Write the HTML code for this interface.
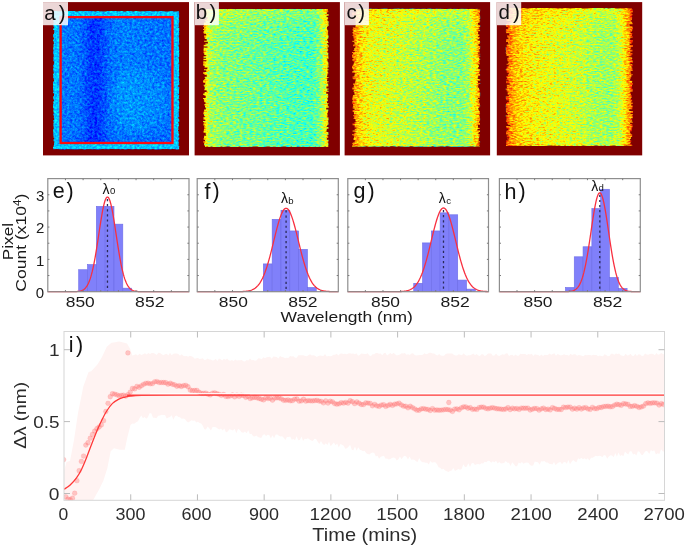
<!DOCTYPE html>
<html><head><meta charset="utf-8"><style>
html,body{margin:0;padding:0;background:#fff;overflow:hidden;}
svg{display:block;font-family:"Liberation Sans", sans-serif;}
text{opacity:0.995;}
</style></head><body>
<svg width="685" height="545" viewBox="0 0 685 545">
<defs><linearGradient id="ga_h" x1="0" y1="0" x2="1" y2="0"><stop offset="0" stop-color="#595959" stop-opacity="1"/><stop offset="0.043478260869565216" stop-color="#595959" stop-opacity="1"/><stop offset="0.05533596837944664" stop-color="#3e3e3e" stop-opacity="1"/><stop offset="0.1976284584980237" stop-color="#3d3d3d" stop-opacity="1"/><stop offset="0.25296442687747034" stop-color="#363636" stop-opacity="1"/><stop offset="0.30039525691699603" stop-color="#2e2e2e" stop-opacity="1"/><stop offset="0.36363636363636365" stop-color="#2e2e2e" stop-opacity="1"/><stop offset="0.41106719367588934" stop-color="#363636" stop-opacity="1"/><stop offset="0.466403162055336" stop-color="#3d3d3d" stop-opacity="1"/><stop offset="0.5691699604743083" stop-color="#404040" stop-opacity="1"/><stop offset="0.766798418972332" stop-color="#3d3d3d" stop-opacity="1"/><stop offset="0.9407114624505929" stop-color="#3c3c3c" stop-opacity="1"/><stop offset="0.9565217391304348" stop-color="#5e5e5e" stop-opacity="1"/><stop offset="1" stop-color="#757575" stop-opacity="1"/></linearGradient>
<linearGradient id="gb_h" x1="0" y1="0" x2="1" y2="0"><stop offset="0" stop-color="#afafaf" stop-opacity="1"/><stop offset="0.023847376788553257" stop-color="#a1a1a1" stop-opacity="1"/><stop offset="0.05564387917329093" stop-color="#8b8b8b" stop-opacity="1"/><stop offset="0.13513513513513511" stop-color="#828282" stop-opacity="1"/><stop offset="0.3736089030206677" stop-color="#7c7c7c" stop-opacity="1"/><stop offset="0.6518282988871223" stop-color="#757575" stop-opacity="1"/><stop offset="0.8664546899841017" stop-color="#717171" stop-opacity="1"/><stop offset="0.9220985691573926" stop-color="#7d7d7d" stop-opacity="1"/><stop offset="0.9618441971383147" stop-color="#949494" stop-opacity="1"/><stop offset="1" stop-color="#ababab" stop-opacity="1"/></linearGradient>
<linearGradient id="gc_h" x1="0" y1="0" x2="1" y2="0"><stop offset="0" stop-color="#bfbfbf" stop-opacity="1"/><stop offset="0.038910505836575876" stop-color="#b2b2b2" stop-opacity="1"/><stop offset="0.08560311284046693" stop-color="#a3a3a3" stop-opacity="1"/><stop offset="0.1556420233463035" stop-color="#9a9a9a" stop-opacity="1"/><stop offset="0.3346303501945525" stop-color="#939393" stop-opacity="1"/><stop offset="0.5291828793774319" stop-color="#8c8c8c" stop-opacity="1"/><stop offset="0.7237354085603113" stop-color="#838383" stop-opacity="1"/><stop offset="0.8560311284046692" stop-color="#818181" stop-opacity="1"/><stop offset="0.9105058365758755" stop-color="#8c8c8c" stop-opacity="1"/><stop offset="0.9494163424124513" stop-color="#9e9e9e" stop-opacity="1"/><stop offset="0.980544747081712" stop-color="#b0b0b0" stop-opacity="1"/><stop offset="1" stop-color="#bfbfbf" stop-opacity="1"/></linearGradient>
<linearGradient id="gd_h" x1="0" y1="0" x2="1" y2="0"><stop offset="0" stop-color="#c9c9c9" stop-opacity="1"/><stop offset="0.03529411764705882" stop-color="#bdbdbd" stop-opacity="1"/><stop offset="0.09019607843137255" stop-color="#acacac" stop-opacity="1"/><stop offset="0.19215686274509805" stop-color="#a2a2a2" stop-opacity="1"/><stop offset="0.3333333333333333" stop-color="#9b9b9b" stop-opacity="1"/><stop offset="0.5450980392156862" stop-color="#949494" stop-opacity="1"/><stop offset="0.7176470588235294" stop-color="#888888" stop-opacity="1"/><stop offset="0.8509803921568627" stop-color="#878787" stop-opacity="1"/><stop offset="0.8980392156862745" stop-color="#939393" stop-opacity="1"/><stop offset="0.9372549019607843" stop-color="#a4a4a4" stop-opacity="1"/><stop offset="0.9686274509803922" stop-color="#b8b8b8" stop-opacity="1"/><stop offset="1" stop-color="#c9c9c9" stop-opacity="1"/></linearGradient>
<linearGradient id="gv_b" x1="0" y1="0" x2="0" y2="1"><stop offset="0" stop-color="#ffffff" stop-opacity="0.12"/><stop offset="0.1" stop-color="#ffffff" stop-opacity="0.04"/><stop offset="0.25" stop-color="#ffffff" stop-opacity="0.0"/><stop offset="1" stop-color="#ffffff" stop-opacity="0.0"/></linearGradient>
<linearGradient id="gv_c" x1="0" y1="0" x2="0" y2="1"><stop offset="0" stop-color="#ffffff" stop-opacity="0.12"/><stop offset="0.1" stop-color="#ffffff" stop-opacity="0.04"/><stop offset="0.25" stop-color="#ffffff" stop-opacity="0.0"/><stop offset="0.92" stop-color="#ffffff" stop-opacity="0.0"/><stop offset="1" stop-color="#ffffff" stop-opacity="0.05"/></linearGradient>
<linearGradient id="gv_d" x1="0" y1="0" x2="0" y2="1"><stop offset="0" stop-color="#ffffff" stop-opacity="0.12"/><stop offset="0.1" stop-color="#ffffff" stop-opacity="0.04"/><stop offset="0.25" stop-color="#ffffff" stop-opacity="0.0"/><stop offset="0.9" stop-color="#ffffff" stop-opacity="0.0"/><stop offset="1" stop-color="#ffffff" stop-opacity="0.05"/></linearGradient>
<radialGradient id="rg_a"><stop offset="0" stop-color="#fff" stop-opacity="0.035"/><stop offset="0.7" stop-color="#fff" stop-opacity="0.025"/><stop offset="1" stop-color="#fff" stop-opacity="0"/></radialGradient>
<linearGradient id="gv_a" x1="0" y1="0" x2="0" y2="1"><stop offset="0" stop-color="#000" stop-opacity="0"/><stop offset="1" stop-color="#000" stop-opacity="0.07"/></linearGradient>
<filter id="nA" x="0" y="0" width="100%" height="100%" color-interpolation-filters="sRGB"><feTurbulence type="fractalNoise" baseFrequency="0.4 0.45" numOctaves="3" seed="3" result="t"/><feColorMatrix in="t" type="matrix" values="0.2 0 0 0 0.4  0.2 0 0 0 0.4  0.2 0 0 0 0.4  0 0 0 0 1" result="m"/><feComposite in="SourceGraphic" in2="m" operator="arithmetic" k1="0" k2="1" k3="1" k4="-0.5" result="r"/><feComponentTransfer in="r" result="j"><feFuncR type="table" tableValues="0.000 0.000 0.000 0.000 0.000 0.000 0.000 0.000 0.000 0.000 0.000 0.000 0.000 0.000 0.000 0.000 0.000 0.000 0.000 0.000 0.000 0.000 0.000 0.000 0.000 0.062 0.125 0.188 0.250 0.312 0.375 0.438 0.500 0.562 0.625 0.688 0.750 0.812 0.875 0.938 1.000 1.000 1.000 1.000 1.000 1.000 1.000 1.000 1.000 1.000 1.000 1.000 1.000 1.000 1.000 1.000 1.000 0.938 0.875 0.812 0.750 0.688 0.625 0.562 0.500"/><feFuncG type="table" tableValues="0.000 0.000 0.000 0.000 0.000 0.000 0.000 0.000 0.000 0.062 0.125 0.188 0.250 0.312 0.375 0.438 0.500 0.562 0.625 0.688 0.750 0.812 0.875 0.938 1.000 1.000 1.000 1.000 1.000 1.000 1.000 1.000 1.000 1.000 1.000 1.000 1.000 1.000 1.000 1.000 1.000 0.938 0.875 0.812 0.750 0.688 0.625 0.562 0.500 0.438 0.375 0.312 0.250 0.188 0.125 0.062 0.000 0.000 0.000 0.000 0.000 0.000 0.000 0.000 0.000"/><feFuncB type="table" tableValues="0.500 0.562 0.625 0.688 0.750 0.812 0.875 0.938 1.000 1.000 1.000 1.000 1.000 1.000 1.000 1.000 1.000 1.000 1.000 1.000 1.000 1.000 1.000 1.000 1.000 0.938 0.875 0.812 0.750 0.688 0.625 0.562 0.500 0.438 0.375 0.312 0.250 0.188 0.125 0.062 0.000 0.000 0.000 0.000 0.000 0.000 0.000 0.000 0.000 0.000 0.000 0.000 0.000 0.000 0.000 0.000 0.000 0.000 0.000 0.000 0.000 0.000 0.000 0.000 0.000"/><feFuncA type="identity"/></feComponentTransfer><feComposite in="j" in2="SourceGraphic" operator="in"/></filter>
<filter id="nB" x="0" y="0" width="100%" height="100%" color-interpolation-filters="sRGB"><feTurbulence type="fractalNoise" baseFrequency="0.3 0.7" numOctaves="2" seed="5" result="t"/><feColorMatrix in="t" type="matrix" values="0.36 0 0 0 0.32  0.36 0 0 0 0.32  0.36 0 0 0 0.32  0 0 0 0 1" result="m"/><feComposite in="SourceGraphic" in2="m" operator="arithmetic" k1="0" k2="1" k3="1" k4="-0.5" result="r"/><feComponentTransfer in="r" result="j"><feFuncR type="table" tableValues="0.000 0.000 0.000 0.000 0.000 0.000 0.000 0.000 0.000 0.000 0.000 0.000 0.000 0.000 0.000 0.000 0.000 0.000 0.000 0.000 0.000 0.000 0.000 0.000 0.000 0.062 0.125 0.188 0.250 0.312 0.375 0.438 0.500 0.562 0.625 0.688 0.750 0.812 0.875 0.938 1.000 1.000 1.000 1.000 1.000 1.000 1.000 1.000 1.000 1.000 1.000 1.000 1.000 1.000 1.000 1.000 1.000 0.938 0.875 0.812 0.750 0.688 0.625 0.562 0.500"/><feFuncG type="table" tableValues="0.000 0.000 0.000 0.000 0.000 0.000 0.000 0.000 0.000 0.062 0.125 0.188 0.250 0.312 0.375 0.438 0.500 0.562 0.625 0.688 0.750 0.812 0.875 0.938 1.000 1.000 1.000 1.000 1.000 1.000 1.000 1.000 1.000 1.000 1.000 1.000 1.000 1.000 1.000 1.000 1.000 0.938 0.875 0.812 0.750 0.688 0.625 0.562 0.500 0.438 0.375 0.312 0.250 0.188 0.125 0.062 0.000 0.000 0.000 0.000 0.000 0.000 0.000 0.000 0.000"/><feFuncB type="table" tableValues="0.500 0.562 0.625 0.688 0.750 0.812 0.875 0.938 1.000 1.000 1.000 1.000 1.000 1.000 1.000 1.000 1.000 1.000 1.000 1.000 1.000 1.000 1.000 1.000 1.000 0.938 0.875 0.812 0.750 0.688 0.625 0.562 0.500 0.438 0.375 0.312 0.250 0.188 0.125 0.062 0.000 0.000 0.000 0.000 0.000 0.000 0.000 0.000 0.000 0.000 0.000 0.000 0.000 0.000 0.000 0.000 0.000 0.000 0.000 0.000 0.000 0.000 0.000 0.000 0.000"/><feFuncA type="identity"/></feComponentTransfer><feComposite in="j" in2="SourceGraphic" operator="in"/></filter>
<filter id="nC" x="0" y="0" width="100%" height="100%" color-interpolation-filters="sRGB"><feTurbulence type="fractalNoise" baseFrequency="0.3 0.7" numOctaves="2" seed="8" result="t"/><feColorMatrix in="t" type="matrix" values="0.36 0 0 0 0.32  0.36 0 0 0 0.32  0.36 0 0 0 0.32  0 0 0 0 1" result="m"/><feComposite in="SourceGraphic" in2="m" operator="arithmetic" k1="0" k2="1" k3="1" k4="-0.5" result="r"/><feComponentTransfer in="r" result="j"><feFuncR type="table" tableValues="0.000 0.000 0.000 0.000 0.000 0.000 0.000 0.000 0.000 0.000 0.000 0.000 0.000 0.000 0.000 0.000 0.000 0.000 0.000 0.000 0.000 0.000 0.000 0.000 0.000 0.062 0.125 0.188 0.250 0.312 0.375 0.438 0.500 0.562 0.625 0.688 0.750 0.812 0.875 0.938 1.000 1.000 1.000 1.000 1.000 1.000 1.000 1.000 1.000 1.000 1.000 1.000 1.000 1.000 1.000 1.000 1.000 0.938 0.875 0.812 0.750 0.688 0.625 0.562 0.500"/><feFuncG type="table" tableValues="0.000 0.000 0.000 0.000 0.000 0.000 0.000 0.000 0.000 0.062 0.125 0.188 0.250 0.312 0.375 0.438 0.500 0.562 0.625 0.688 0.750 0.812 0.875 0.938 1.000 1.000 1.000 1.000 1.000 1.000 1.000 1.000 1.000 1.000 1.000 1.000 1.000 1.000 1.000 1.000 1.000 0.938 0.875 0.812 0.750 0.688 0.625 0.562 0.500 0.438 0.375 0.312 0.250 0.188 0.125 0.062 0.000 0.000 0.000 0.000 0.000 0.000 0.000 0.000 0.000"/><feFuncB type="table" tableValues="0.500 0.562 0.625 0.688 0.750 0.812 0.875 0.938 1.000 1.000 1.000 1.000 1.000 1.000 1.000 1.000 1.000 1.000 1.000 1.000 1.000 1.000 1.000 1.000 1.000 0.938 0.875 0.812 0.750 0.688 0.625 0.562 0.500 0.438 0.375 0.312 0.250 0.188 0.125 0.062 0.000 0.000 0.000 0.000 0.000 0.000 0.000 0.000 0.000 0.000 0.000 0.000 0.000 0.000 0.000 0.000 0.000 0.000 0.000 0.000 0.000 0.000 0.000 0.000 0.000"/><feFuncA type="identity"/></feComponentTransfer><feComposite in="j" in2="SourceGraphic" operator="in"/></filter>
<filter id="nD" x="0" y="0" width="100%" height="100%" color-interpolation-filters="sRGB"><feTurbulence type="fractalNoise" baseFrequency="0.3 0.7" numOctaves="2" seed="11" result="t"/><feColorMatrix in="t" type="matrix" values="0.34 0 0 0 0.33  0.34 0 0 0 0.33  0.34 0 0 0 0.33  0 0 0 0 1" result="m"/><feComposite in="SourceGraphic" in2="m" operator="arithmetic" k1="0" k2="1" k3="1" k4="-0.5" result="r"/><feComponentTransfer in="r" result="j"><feFuncR type="table" tableValues="0.000 0.000 0.000 0.000 0.000 0.000 0.000 0.000 0.000 0.000 0.000 0.000 0.000 0.000 0.000 0.000 0.000 0.000 0.000 0.000 0.000 0.000 0.000 0.000 0.000 0.062 0.125 0.188 0.250 0.312 0.375 0.438 0.500 0.562 0.625 0.688 0.750 0.812 0.875 0.938 1.000 1.000 1.000 1.000 1.000 1.000 1.000 1.000 1.000 1.000 1.000 1.000 1.000 1.000 1.000 1.000 1.000 0.938 0.875 0.812 0.750 0.688 0.625 0.562 0.500"/><feFuncG type="table" tableValues="0.000 0.000 0.000 0.000 0.000 0.000 0.000 0.000 0.000 0.062 0.125 0.188 0.250 0.312 0.375 0.438 0.500 0.562 0.625 0.688 0.750 0.812 0.875 0.938 1.000 1.000 1.000 1.000 1.000 1.000 1.000 1.000 1.000 1.000 1.000 1.000 1.000 1.000 1.000 1.000 1.000 0.938 0.875 0.812 0.750 0.688 0.625 0.562 0.500 0.438 0.375 0.312 0.250 0.188 0.125 0.062 0.000 0.000 0.000 0.000 0.000 0.000 0.000 0.000 0.000"/><feFuncB type="table" tableValues="0.500 0.562 0.625 0.688 0.750 0.812 0.875 0.938 1.000 1.000 1.000 1.000 1.000 1.000 1.000 1.000 1.000 1.000 1.000 1.000 1.000 1.000 1.000 1.000 1.000 0.938 0.875 0.812 0.750 0.688 0.625 0.562 0.500 0.438 0.375 0.312 0.250 0.188 0.125 0.062 0.000 0.000 0.000 0.000 0.000 0.000 0.000 0.000 0.000 0.000 0.000 0.000 0.000 0.000 0.000 0.000 0.000 0.000 0.000 0.000 0.000 0.000 0.000 0.000 0.000"/><feFuncA type="identity"/></feComponentTransfer><feComposite in="j" in2="SourceGraphic" operator="in"/></filter>
<clipPath id="cpa"><path d="M53.8 10.75L55.8 11.05L57.8 11.37L59.8 11.31L61.8 11.33L63.8 11.03L65.8 11.4L67.8 11.13L69.8 10.68L71.8 11.06L73.8 10.65L75.8 11.53L77.8 11.55L79.8 10.94L81.8 10.91L83.8 11.37L85.8 10.8L87.8 10.78L89.8 10.79L91.8 10.95L93.8 11.23L95.8 11.56L97.8 10.81L99.8 11.56L101.8 11.16L103.8 11.5L105.8 11.42L107.8 10.76L109.8 11.25L111.8 10.72L113.8 10.61L115.8 11L117.8 11.37L119.8 11.17L121.8 10.79L123.8 11.44L125.8 11.51L127.8 10.84L129.8 11.05L131.8 11.24L133.8 11.5L135.8 10.73L137.8 11.15L139.8 11.57L141.8 11.21L143.8 11.32L145.8 11.37L147.8 11.11L149.8 10.89L151.8 11.19L153.8 11.13L155.8 10.94L157.8 11.45L159.8 10.96L161.8 11.08L163.8 11.36L165.8 11.41L167.8 11.49L169.8 11.25L171.8 10.85L173.8 11.45L175.8 11.51L177.8 11.31L178.73 11L178.73 12.39L179.26 12.39L179.26 14L179.11 14L179.11 15.71L179.24 15.71L179.24 16.57L179.17 16.57L179.17 17.74L178.76 17.74L178.76 19.44L179.08 19.44L179.08 20.25L179.44 20.25L179.44 21.68L179.11 21.68L179.11 22.95L178.71 22.95L178.71 24.61L178.76 24.61L178.76 25.98L178.82 25.98L178.82 26.97L178.34 26.97L178.34 27.83L179.38 27.83L179.38 28.74L179.34 28.74L179.34 29.69L179.4 29.69L179.4 30.97L178.99 30.97L178.99 32.19L179.27 32.19L179.27 33.68L179.4 33.68L179.4 34.73L178.87 34.73L178.87 36.25L178.67 36.25L178.67 37.36L179.14 37.36L179.14 39.36L179.25 39.36L179.25 40.49L179.03 40.49L179.03 42.48L179.18 42.48L179.18 43.29L179.45 43.29L179.45 44.86L178.6 44.86L178.6 46.64L179.07 46.64L179.07 47.98L179.14 47.98L179.14 49.95L179.47 49.95L179.47 51.17L179.17 51.17L179.17 53.04L179.5 53.04L179.5 54.69L179.26 54.69L179.26 55.94L179.26 55.94L179.26 56.94L178.61 56.94L178.61 58.06L178.77 58.06L178.77 59.03L178.86 59.03L178.86 59.96L179.07 59.96L179.07 61.45L179.31 61.45L179.31 62.8L178.48 62.8L178.48 63.71L179.46 63.71L179.46 64.53L179.45 64.53L179.45 65.44L179.31 65.44L179.31 66.92L179.11 66.92L179.11 68.63L179.23 68.63L179.23 70.57L178.9 70.57L178.9 72.44L179.35 72.44L179.35 74.25L179.33 74.25L179.33 75.99L178.9 75.99L178.9 77.67L178.9 77.67L178.9 78.52L179.49 78.52L179.49 79.97L179.36 79.97L179.36 80.84L179.02 80.84L179.02 81.88L179.43 81.88L179.43 83.7L179.42 83.7L179.42 85.13L178.22 85.13L178.22 86.76L179.46 86.76L179.46 87.84L179.43 87.84L179.43 88.91L179.18 88.91L179.18 90.07L179.05 90.07L179.05 91.7L179.03 91.7L179.03 92.61L179.04 92.61L179.04 94.15L178.32 94.15L178.32 95.05L179.33 95.05L179.33 96.17L178.9 96.17L178.9 97.88L179.48 97.88L179.48 98.87L178.44 98.87L178.44 99.72L178.65 99.72L178.65 100.53L179.06 100.53L179.06 101.79L179.41 101.79L179.41 102.91L179.35 102.91L179.35 104.79L178.91 104.79L178.91 105.62L179.12 105.62L179.12 106.63L179.3 106.63L179.3 107.86L179.31 107.86L179.31 109.1L178.72 109.1L178.72 110.39L179.47 110.39L179.47 111.23L178.71 111.23L178.71 112.98L178.96 112.98L178.96 114.09L178.87 114.09L178.87 115.76L179.26 115.76L179.26 116.95L178.31 116.95L178.31 118.15L178.62 118.15L178.62 119.25L179.34 119.25L179.34 120.3L179.48 120.3L179.48 121.84L178.33 121.84L178.33 122.91L178.79 122.91L178.79 124.54L178.93 124.54L178.93 126.16L178.39 126.16L178.39 127.57L178.38 127.57L178.38 128.82L178.67 128.82L178.67 129.67L178.02 129.67L178.02 131.11L178.57 131.11L178.57 132.03L178.58 132.03L178.58 133.99L179.19 133.99L179.19 135.71L178.7 135.71L178.7 136.57L178.48 136.57L178.48 137.58L179.41 137.58L179.41 139.17L178.85 139.17L178.85 140.37L178.37 140.37L178.37 141.78L178.88 141.78L178.88 142.8L178.7 142.8L178.7 144.54L178.59 144.54L178.59 145.88L179.48 145.88L179.48 147.19L178.93 147.19L178.93 148.34L179.32 148.34L179.32 149.5L178.7 149.43L176.7 149.77L174.7 149.37L172.7 149.11L170.7 149.54L168.7 149.29L166.7 148.93L164.7 149.3L162.7 149.01L160.7 149.54L158.7 149.8L156.7 149.63L154.7 149.86L152.7 149.04L150.7 149.74L148.7 149.66L146.7 149.14L144.7 149.37L142.7 149.07L140.7 149.21L138.7 149.42L136.7 149.29L134.7 149.29L132.7 149.61L130.7 149.58L128.7 149.02L126.7 149.47L124.7 149.68L122.7 148.93L120.7 149.65L118.7 148.92L116.7 149.33L114.7 149.28L112.7 148.92L110.7 148.97L108.7 149.57L106.7 149.17L104.7 149.42L102.7 149.06L100.7 149.52L98.7 149.84L96.7 149.65L94.7 149.27L92.7 149.86L90.7 149.25L88.7 149.18L86.7 149.32L84.7 149.89L82.7 149.29L80.7 149.19L78.7 149.44L76.7 149.54L74.7 149.66L72.7 149.61L70.7 149.57L68.7 149.31L66.7 149.34L64.7 149.88L62.7 149.39L60.7 149.66L58.7 149.26L56.7 148.91L54.7 149.29L53.44 149.5L53.44 148.45L53.03 148.45L53.03 146.8L53.73 146.8L53.73 144.96L54.02 144.96L54.02 143.08L54.27 143.08L54.27 141.21L53.56 141.21L53.56 139.33L54.16 139.33L54.16 137.64L53.58 137.64L53.58 135.72L53.34 135.72L53.34 133.8L53.12 133.8L53.12 132.63L53.44 132.63L53.44 131.55L53.1 131.55L53.1 130.18L53.11 130.18L53.11 129.18L53.72 129.18L53.72 128.1L53.66 128.1L53.66 126.21L53.32 126.21L53.32 124.7L53.43 124.7L53.43 122.96L53.66 122.96L53.66 121.58L53.24 121.58L53.24 119.9L54.13 119.9L54.13 118.22L53.73 118.22L53.73 117.09L53.88 117.09L53.88 115.59L53.32 115.59L53.32 114.65L53.24 114.65L53.24 113.78L53.75 113.78L53.75 112.43L53.45 112.43L53.45 111.16L53.39 111.16L53.39 109.81L53.61 109.81L53.61 108.32L53.06 108.32L53.06 106.43L53.09 106.43L53.09 104.95L53.07 104.95L53.07 104.11L53.58 104.11L53.58 103.18L53.24 103.18L53.24 101.31L54.02 101.31L54.02 99.48L53.33 99.48L53.33 98.65L53.36 98.65L53.36 97.79L53.17 97.79L53.17 96.22L54 96.22L54 94.77L53.99 94.77L53.99 93.37L53.08 93.37L53.08 91.69L53.58 91.69L53.58 90.59L53.04 90.59L53.04 89.31L53.18 89.31L53.18 88.29L53 88.29L53 86.52L53.24 86.52L53.24 85.04L53.08 85.04L53.08 83.48L53.04 83.48L53.04 81.48L54.04 81.48L54.04 79.98L53.81 79.98L53.81 78.13L53.15 78.13L53.15 76.16L53.43 76.16L53.43 75.3L53.05 75.3L53.05 73.68L53.76 73.68L53.76 71.84L53.41 71.84L53.41 70.15L53.13 70.15L53.13 68.31L53.52 68.31L53.52 66.49L53.02 66.49L53.02 64.89L53.73 64.89L53.73 63.42L54.08 63.42L54.08 61.85L53.73 61.85L53.73 60.85L53.15 60.85L53.15 59.84L53.45 59.84L53.45 57.98L53.29 57.98L53.29 56.95L53.66 56.95L53.66 55.29L53.67 55.29L53.67 54.35L53.15 54.35L53.15 52.56L53.14 52.56L53.14 51.23L53.47 51.23L53.47 49.62L53.16 49.62L53.16 48.37L53.3 48.37L53.3 46.92L53.53 46.92L53.53 45.3L53.38 45.3L53.38 44.27L53.89 44.27L53.89 42.88L53.8 42.88L53.8 41.77L53.52 41.77L53.52 40.87L53.04 40.87L53.04 39.5L53.98 39.5L53.98 38.36L53.6 38.36L53.6 36.81L53.05 36.81L53.05 34.92L53.36 34.92L53.36 33.99L54.04 33.99L54.04 32.65L54.18 32.65L54.18 30.86L54.26 30.86L54.26 30.06L53.2 30.06L53.2 28.19L53.93 28.19L53.93 26.86L53.47 26.86L53.47 25.23L53.16 25.23L53.16 23.97L53.39 23.97L53.39 22.74L53.88 22.74L53.88 21.63L53.32 21.63L53.32 20.22L53.6 20.22L53.6 19.03L53.86 19.03L53.86 17.46L53.28 17.46L53.28 16.44L53.07 16.44L53.07 15.57L53.36 15.57L53.36 13.69L53.69 13.69L53.69 11.99L53.63 11.99L53.63 11Z"/></clipPath>
<clipPath id="cpb"><path d="M205.5 8.98L207.5 8.59L209.5 9.37L211.5 9.32L213.5 8.87L215.5 9.06L217.5 8.61L219.5 8.62L221.5 8.69L223.5 9.09L225.5 8.61L227.5 9.37L229.5 8.47L231.5 8.59L233.5 8.49L235.5 9.17L237.5 8.77L239.5 8.87L241.5 8.73L243.5 9.04L245.5 8.8L247.5 8.61L249.5 8.83L251.5 8.7L253.5 8.51L255.5 9.22L257.5 9.08L259.5 9.06L261.5 9.28L263.5 8.79L265.5 8.78L267.5 8.82L269.5 8.8L271.5 9.07L273.5 8.41L275.5 8.86L277.5 8.94L279.5 8.75L281.5 8.42L283.5 9.1L285.5 8.41L287.5 8.96L289.5 8.55L291.5 8.43L293.5 8.58L295.5 8.47L297.5 8.55L299.5 9.08L301.5 9.13L303.5 8.76L305.5 9.05L307.5 8.88L309.5 8.9L311.5 9.28L313.5 8.71L315.5 9.27L317.5 9.09L319.5 9.08L321.5 8.41L323.5 8.48L325.5 8.43L327.8 8.8L327.8 10.65L328.23 10.65L328.23 12.3L326.8 12.3L326.8 14.05L328.67 14.05L328.67 15.8L326.75 15.8L326.75 17.14L328.13 17.14L328.13 19.08L327.56 19.08L327.56 19.96L327.53 19.96L327.53 21.19L328.73 21.19L328.73 22.97L328.54 22.97L328.54 24.07L328.67 24.07L328.67 26.05L327.58 26.05L327.58 26.97L327 26.97L327 27.78L327.1 27.78L327.1 29.13L327.33 29.13L327.33 30.22L328.19 30.22L328.19 31.68L328.05 31.68L328.05 33.61L328.14 33.61L328.14 35.48L328.64 35.48L328.64 36.54L328.75 36.54L328.75 37.49L328.29 37.49L328.29 38.82L327.28 38.82L327.28 40.45L327.98 40.45L327.98 41.91L328.55 41.91L328.55 43.09L327.17 43.09L327.17 44.18L328.05 44.18L328.05 45.34L328.79 45.34L328.79 47.33L327.55 47.33L327.55 48.93L328.16 48.93L328.16 50.87L327.44 50.87L327.44 52.85L328.42 52.85L328.42 54.14L328.25 54.14L328.25 55.68L328.45 55.68L328.45 57.51L328.66 57.51L328.66 58.63L327.32 58.63L327.32 60.6L327.68 60.6L327.68 62.28L328.45 62.28L328.45 63.58L328.51 63.58L328.51 64.64L328.34 64.64L328.34 65.72L328.64 65.72L328.64 67.39L327.48 67.39L327.48 69.27L328.66 69.27L328.66 70.3L327.57 70.3L327.57 72.2L328.26 72.2L328.26 73.72L327.5 73.72L327.5 75.63L326.96 75.63L326.96 77.01L328.72 77.01L328.72 77.86L327.35 77.86L327.35 79.85L327 79.85L327 81.13L328.74 81.13L328.74 82.28L327.22 82.28L327.22 83.44L328.24 83.44L328.24 84.7L328.35 84.7L328.35 86.53L326.53 86.53L326.53 88.45L328.71 88.45L328.71 89.62L327.21 89.62L327.21 90.66L328.67 90.66L328.67 91.98L326.25 91.98L326.25 93.69L328.09 93.69L328.09 95.43L328.37 95.43L328.37 96.27L328.16 96.27L328.16 97.78L327.34 97.78L327.34 99.4L327.86 99.4L327.86 101.32L326.98 101.32L326.98 103.14L328.67 103.14L328.67 104.05L327.81 104.05L327.81 105.88L328.67 105.88L328.67 106.73L328.8 106.73L328.8 107.68L326.19 107.68L326.19 109.58L328.37 109.58L328.37 111.33L327.93 111.33L327.93 113.3L327.12 113.3L327.12 114.44L327.82 114.44L327.82 115.86L327.42 115.86L327.42 117.16L328.5 117.16L328.5 118.6L328.71 118.6L328.71 120.24L328.18 120.24L328.18 121.78L328.41 121.78L328.41 122.88L328.57 122.88L328.57 123.75L328.55 123.75L328.55 124.67L327.31 124.67L327.31 126.01L326.65 126.01L326.65 127.01L328.61 127.01L328.61 128.85L326.78 128.85L326.78 130.26L326.47 130.26L326.47 131.98L328.44 131.98L328.44 133.67L328.72 133.67L328.72 134.77L327.42 134.77L327.42 136.25L328.22 136.25L328.22 138.1L326.86 138.1L326.86 139.78L328.73 139.78L328.73 141.25L328.24 141.25L328.24 142.23L328.15 142.23L328.15 143.2L328.54 143.2L328.54 144.95L328.36 144.95L328.36 145.84L328.23 145.84L328.23 146.65L328.54 146.65L328.54 147L327.3 147.29L325.3 146.56L323.3 147.12L321.3 147.31L319.3 146.65L317.3 147.26L315.3 146.72L313.3 147.17L311.3 146.98L309.3 146.75L307.3 147.29L305.3 147.1L303.3 146.72L301.3 146.97L299.3 146.69L297.3 146.69L295.3 147.34L293.3 147.38L291.3 146.56L289.3 147.32L287.3 147.11L285.3 146.41L283.3 146.51L281.3 146.84L279.3 147.29L277.3 147.27L275.3 146.65L273.3 146.85L271.3 147.33L269.3 146.61L267.3 146.5L265.3 146.81L263.3 147.08L261.3 147.27L259.3 147.28L257.3 146.41L255.3 146.58L253.3 146.53L251.3 147L249.3 146.81L247.3 147.32L245.3 147.02L243.3 147.01L241.3 147.09L239.3 146.6L237.3 147.29L235.3 147.26L233.3 147.22L231.3 147.18L229.3 146.57L227.3 146.45L225.3 146.76L223.3 147.12L221.3 146.6L219.3 147.27L217.3 147.26L215.3 147.1L213.3 146.88L211.3 146.55L209.3 147.21L207.3 146.57L205.04 147L205.04 145.44L204.08 145.44L204.08 144.25L204.18 144.25L204.18 142.61L203.14 142.61L203.14 141.23L204.98 141.23L204.98 139.74L203.66 139.74L203.66 137.99L204.01 137.99L204.01 136.86L203.97 136.86L203.97 135.82L206.03 135.82L206.03 134.67L205.68 134.67L205.68 132.81L203.56 132.81L203.56 131.98L203.5 131.98L203.5 130.8L203.95 130.8L203.95 129.11L204.3 129.11L204.3 127.37L204.13 127.37L204.13 126.54L204.62 126.54L204.62 125.46L203.48 125.46L203.48 123.49L203.76 123.49L203.76 122.04L203.05 122.04L203.05 120.98L205.25 120.98L205.25 119.83L203.51 119.83L203.51 118.62L203.43 118.62L203.43 117.36L204.67 117.36L204.67 116.07L204.12 116.07L204.12 114.61L203.62 114.61L203.62 113.57L203.06 113.57L203.06 112.64L203.73 112.64L203.73 111.21L204.15 111.21L204.15 109.43L205.8 109.43L205.8 107.56L205.01 107.56L205.01 105.58L204.31 105.58L204.31 103.88L205.45 103.88L205.45 102.23L204.23 102.23L204.23 100.56L203.89 100.56L203.89 98.88L203.03 98.88L203.03 97.88L205.64 97.88L205.64 95.96L204.45 95.96L204.45 94.93L203.22 94.93L203.22 93.62L204.66 93.62L204.66 92.09L206.62 92.09L206.62 90.37L204.37 90.37L204.37 88.92L204.74 88.92L204.74 87.1L204.3 87.1L204.3 85.62L203.53 85.62L203.53 84.7L205.16 84.7L205.16 83.05L203.26 83.05L203.26 81.38L203.09 81.38L203.09 80.21L204 80.21L204 79.26L205.23 79.26L205.23 77.7L204.64 77.7L204.64 76.76L206.74 76.76L206.74 74.94L204.42 74.94L204.42 73.79L203.22 73.79L203.22 71.95L206.28 71.95L206.28 70.2L203.96 70.2L203.96 69.31L207.29 69.31L207.29 67.65L204.62 67.65L204.62 65.82L203.19 65.82L203.19 64.06L203.24 64.06L203.24 62.48L203.31 62.48L203.31 61.35L206.38 61.35L206.38 60.16L203.36 60.16L203.36 58.83L205.92 58.83L205.92 57.64L203.53 57.64L203.53 56.33L205.78 56.33L205.78 54.88L204.3 54.88L204.3 53.14L203.55 53.14L203.55 51.67L203.59 51.67L203.59 50.32L203.57 50.32L203.57 49.01L203.69 49.01L203.69 47.39L207.49 47.39L207.49 46.38L203.62 46.38L203.62 44.86L205.39 44.86L205.39 43.47L207.86 43.47L207.86 41.71L204.05 41.71L204.05 40.86L206.7 40.86L206.7 38.95L204.67 38.95L204.67 37.85L204.38 37.85L204.38 37.04L204.05 37.04L204.05 35.6L206.09 35.6L206.09 33.86L203.7 33.86L203.7 32.93L203.35 32.93L203.35 31.47L204.09 31.47L204.09 30.08L203.07 30.08L203.07 28.96L204.02 28.96L204.02 26.99L203.2 26.99L203.2 25.64L203.83 25.64L203.83 23.69L203.94 23.69L203.94 22.4L205.57 22.4L205.57 20.86L204.65 20.86L204.65 19.85L206.64 19.85L206.64 18.75L207.46 18.75L207.46 17.34L203.77 17.34L203.77 16.21L205.3 16.21L205.3 14.97L206.39 14.97L206.39 13.31L203.95 13.31L203.95 11.41L203.68 11.41L203.68 10.42L205.67 10.42L205.67 8.8Z"/></clipPath>
<clipPath id="cpc"><path d="M354.5 8.25L356.5 8.72L358.5 8.27L360.5 8.81L362.5 8.71L364.5 8.48L366.5 8.72L368.5 8.67L370.5 8.14L372.5 8.63L374.5 8.72L376.5 8.62L378.5 8.98L380.5 8.84L382.5 8.48L384.5 8.33L386.5 8.23L388.5 8.91L390.5 8.79L392.5 8.71L394.5 8.54L396.5 8.6L398.5 8.32L400.5 8.63L402.5 8.25L404.5 8.72L406.5 8.73L408.5 8.77L410.5 8.35L412.5 8.19L414.5 8.43L416.5 8.79L418.5 8.61L420.5 8.85L422.5 8.53L424.5 8.5L426.5 9.01L428.5 8.27L430.5 8.31L432.5 8.69L434.5 8.73L436.5 8.53L438.5 8.66L440.5 8.54L442.5 8.77L444.5 8.99L446.5 8.93L448.5 8.74L450.5 8.57L452.5 9.05L454.5 8.55L456.5 8.73L458.5 8.97L460.5 8.78L462.5 8.49L464.5 8.84L466.5 8.7L468.5 9.01L470.5 8.72L472.5 8.63L474.5 9.07L476.5 8.63L478.5 8.5L477.35 8.5L477.35 9.51L480.27 9.51L480.27 11.37L479.98 11.37L479.98 12.99L479.39 12.99L479.39 14.32L479.69 14.32L479.69 15.62L480.2 15.62L480.2 16.7L480.35 16.7L480.35 17.68L480.39 17.68L480.39 18.98L479.61 18.98L479.61 20.28L480.24 20.28L480.24 21.43L479.65 21.43L479.65 22.79L478.02 22.79L478.02 24.15L478.34 24.15L478.34 25.22L480.41 25.22L480.41 26.97L479.3 26.97L479.3 28.93L478.61 28.93L478.61 29.74L480.17 29.74L480.17 31.32L478.18 31.32L478.18 32.96L478.05 32.96L478.05 34.33L479.32 34.33L479.32 36.07L478.2 36.07L478.2 36.94L479.86 36.94L479.86 37.91L479.39 37.91L479.39 39.29L477.52 39.29L477.52 40.5L480.06 40.5L480.06 41.84L480.28 41.84L480.28 42.65L479.66 42.65L479.66 44.12L478.55 44.12L478.55 46.06L480.31 46.06L480.31 47.77L480.21 47.77L480.21 49.18L479.14 49.18L479.14 50.54L479.61 50.54L479.61 52.4L478.12 52.4L478.12 53.86L480.28 53.86L480.28 54.79L478.56 54.79L478.56 55.83L480.42 55.83L480.42 56.85L479.28 56.85L479.28 58.71L480.28 58.71L480.28 60.07L479.28 60.07L479.28 61.16L479.94 61.16L479.94 62.09L479.37 62.09L479.37 63.48L480.05 63.48L480.05 64.34L478.1 64.34L478.1 65.17L478.92 65.17L478.92 66.97L478.28 66.97L478.28 68.93L480.38 68.93L480.38 70.75L479.73 70.75L479.73 72.09L479.35 72.09L479.35 74.06L480.13 74.06L480.13 75.82L478.24 75.82L478.24 77.44L477.65 77.44L477.65 79L480.32 79L480.32 80.83L477.73 80.83L477.73 81.95L478.04 81.95L478.04 83L480.48 83L480.48 84.06L478.43 84.06L478.43 85.84L478.12 85.84L478.12 87.81L479.05 87.81L479.05 89.47L479.91 89.47L479.91 90.48L479.29 90.48L479.29 91.29L479.45 91.29L479.45 92.43L480.36 92.43L480.36 93.63L480.32 93.63L480.32 95.24L480.26 95.24L480.26 96.14L479.68 96.14L479.68 97.97L477.98 97.97L477.98 99.12L479.51 99.12L479.51 100.54L478.73 100.54L478.73 101.57L479.2 101.57L479.2 102.77L479.7 102.77L479.7 103.58L479.77 103.58L479.77 105.1L480.22 105.1L480.22 106.5L479.28 106.5L479.28 108.31L477.99 108.31L477.99 109.53L479.08 109.53L479.08 110.77L479.75 110.77L479.75 112.64L480.09 112.64L480.09 113.63L479.84 113.63L479.84 114.54L479.43 114.54L479.43 116.31L479.82 116.31L479.82 118.29L480.2 118.29L480.2 120.25L479.85 120.25L479.85 121.24L479.18 121.24L479.18 123.09L479.91 123.09L479.91 125.09L477.93 125.09L477.93 126.61L477.96 126.61L477.96 127.64L479.8 127.64L479.8 128.94L477.46 128.94L477.46 130.37L480.1 130.37L480.1 131.89L478.8 131.89L478.8 133.27L478.33 133.27L478.33 134.26L479.67 134.26L479.67 136.14L479.47 136.14L479.47 137.19L479.08 137.19L479.08 138.44L479.28 138.44L479.28 139.39L478.74 139.39L478.74 141.34L480.2 141.34L480.2 142.53L478.74 142.53L478.74 143.46L479.77 143.46L479.77 144.47L479.26 144.47L479.26 146.16L480.01 146.16L480.01 146.8L478.75 146.41L476.75 146.49L474.75 147.04L472.75 146.59L470.75 146.55L468.75 146.82L466.75 146.89L464.75 147.06L462.75 146.76L460.75 147.05L458.75 147.09L456.75 147.13L454.75 147.12L452.75 146.89L450.75 146.9L448.75 146.59L446.75 146.31L444.75 147.12L442.75 146.61L440.75 146.54L438.75 146.75L436.75 146.96L434.75 147.03L432.75 146.31L430.75 146.98L428.75 147.14L426.75 147.18L424.75 147.14L422.75 146.77L420.75 147.09L418.75 146.79L416.75 147.05L414.75 147.19L412.75 146.57L410.75 146.32L408.75 146.95L406.75 147.14L404.75 147.1L402.75 146.66L400.75 146.65L398.75 146.32L396.75 147.05L394.75 146.47L392.75 146.32L390.75 146.3L388.75 147.13L386.75 146.62L384.75 146.99L382.75 146.27L380.75 146.68L378.75 146.95L376.75 146.97L374.75 146.39L372.75 146.68L370.75 147.01L368.75 147.11L366.75 146.29L364.75 146.79L362.75 147.09L360.75 146.82L358.75 146.99L356.75 146.5L354.75 146.69L352.06 146.8L352.06 145.32L352.87 145.32L352.87 144.27L352.13 144.27L352.13 143.37L352.82 143.37L352.82 142.55L354.62 142.55L354.62 140.96L354.81 140.96L354.81 139.94L353.47 139.94L353.47 138.11L353.95 138.11L353.95 136.32L353.6 136.32L353.6 135.3L352.03 135.3L352.03 134.25L353.84 134.25L353.84 132.66L355.5 132.66L355.5 131.65L352.66 131.65L352.66 130.39L354.74 130.39L354.74 128.84L356.31 128.84L356.31 127.74L354.58 127.74L354.58 126.9L354.61 126.9L354.61 125.3L352.63 125.3L352.63 124.35L352.53 124.35L352.53 123.47L354.47 123.47L354.47 122.28L355.66 122.28L355.66 120.94L355.4 120.94L355.4 119.1L353.52 119.1L353.52 118.03L353.92 118.03L353.92 116.35L353.31 116.35L353.31 115.02L354.24 115.02L354.24 113.68L353.92 113.68L353.92 111.91L352.64 111.91L352.64 110.03L354.56 110.03L354.56 108.47L352.68 108.47L352.68 106.78L353.18 106.78L353.18 105.46L353.04 105.46L353.04 103.67L352.27 103.67L352.27 102.24L352.48 102.24L352.48 101.12L352.81 101.12L352.81 99.99L352.31 99.99L352.31 98.01L352.52 98.01L352.52 96.51L352.95 96.51L352.95 95.03L354.52 95.03L354.52 93.79L354.39 93.79L354.39 91.94L353.58 91.94L353.58 90.53L353.83 90.53L353.83 89.53L352.32 89.53L352.32 87.53L353.57 87.53L353.57 86.19L353.88 86.19L353.88 84.93L353.14 84.93L353.14 83.55L354.88 83.55L354.88 82.34L355.11 82.34L355.11 80.65L355.65 80.65L355.65 79.61L353.5 79.61L353.5 78.39L352.54 78.39L352.54 76.48L354.41 76.48L354.41 74.58L354.86 74.58L354.86 72.81L352.17 72.81L352.17 71.27L353.59 71.27L353.59 69.5L352.69 69.5L352.69 68.23L352.02 68.23L352.02 67.3L352 67.3L352 65.64L352.86 65.64L352.86 64.62L353.66 64.62L353.66 62.77L354.25 62.77L354.25 61.43L353.29 61.43L353.29 60.61L352.16 60.61L352.16 59.14L353.42 59.14L353.42 57.64L352.1 57.64L352.1 55.92L352.05 55.92L352.05 54.53L353.01 54.53L353.01 52.97L352.05 52.97L352.05 51.99L354.79 51.99L354.79 50.94L353.41 50.94L353.41 50.05L354.11 50.05L354.11 48.24L355.32 48.24L355.32 46.3L352.99 46.3L352.99 44.81L354.52 44.81L354.52 43.09L354.28 43.09L354.28 41.64L352.28 41.64L352.28 40.7L354.1 40.7L354.1 39.63L353.71 39.63L353.71 38.64L353.68 38.64L353.68 37.28L353.38 37.28L353.38 35.8L352.42 35.8L352.42 34.96L352.93 34.96L352.93 33.34L352.5 33.34L352.5 32.08L353.15 32.08L353.15 30.6L352.45 30.6L352.45 29.23L353.03 29.23L353.03 28.38L352.81 28.38L352.81 27.53L355.44 27.53L355.44 25.92L355.52 25.92L355.52 24.59L355.63 24.59L355.63 22.66L355.71 22.66L355.71 20.7L355.42 20.7L355.42 19.39L355.4 19.39L355.4 18.48L352.54 18.48L352.54 17.55L352.88 17.55L352.88 16.63L353.92 16.63L353.92 15.23L352.03 15.23L352.03 13.79L352.07 13.79L352.07 12.58L355.92 12.58L355.92 10.71L352.8 10.71L352.8 9.04L355.17 9.04L355.17 8.5Z"/></clipPath>
<clipPath id="cpd"><path d="M508.25 8.58L510.25 8.06L512.25 8.32L514.25 8.33L516.25 7.81L518.25 7.68L520.25 8.2L522.25 7.72L524.25 7.98L526.25 8.49L528.25 8.47L530.25 7.72L532.25 7.68L534.25 7.82L536.25 8.43L538.25 7.62L540.25 7.83L542.25 7.71L544.25 7.73L546.25 8.12L548.25 7.78L550.25 8.01L552.25 8.33L554.25 8.32L556.25 8.02L558.25 8.39L560.25 8.17L562.25 8.43L564.25 7.85L566.25 7.97L568.25 8.18L570.25 8.55L572.25 8.22L574.25 8.07L576.25 7.85L578.25 7.88L580.25 7.82L582.25 8.59L584.25 8.49L586.25 8.49L588.25 8.13L590.25 8.31L592.25 7.9L594.25 8.08L596.25 7.75L598.25 8.02L600.25 7.85L602.25 7.7L604.25 8.52L606.25 7.7L608.25 8.41L610.25 8.3L612.25 7.69L614.25 8.09L616.25 8.6L618.25 8.59L620.25 8.16L622.25 8.37L624.25 8.31L626.25 7.89L628.25 8.15L630.25 8.2L631.63 8L631.63 9.33L632.56 9.33L632.56 10.67L632.87 10.67L632.87 12.51L631.54 12.51L631.54 14.06L632.53 14.06L632.53 15.56L631.69 15.56L631.69 16.93L632.12 16.93L632.12 18.54L631.99 18.54L631.99 20.36L630.88 20.36L630.88 21.53L631.88 21.53L631.88 22.77L632.7 22.77L632.7 24.3L629.65 24.3L629.65 25.92L632.36 25.92L632.36 27.48L632.98 27.48L632.98 29.34L632.3 29.34L632.3 30.65L631.95 30.65L631.95 31.79L630.64 31.79L630.64 32.98L632.36 32.98L632.36 34.26L631.91 34.26L631.91 36.01L632.58 36.01L632.58 37.74L630.26 37.74L630.26 39.2L629.68 39.2L629.68 40.01L632.88 40.01L632.88 41.21L632.44 41.21L632.44 42.82L631.66 42.82L631.66 43.63L629.64 43.63L629.64 45.09L632.94 45.09L632.94 47.02L631.09 47.02L631.09 48.76L630.42 48.76L630.42 49.86L632.45 49.86L632.45 51.58L630.38 51.58L630.38 53.08L632.39 53.08L632.39 54.68L631.36 54.68L631.36 56.35L629.24 56.35L629.24 57.28L632.18 57.28L632.18 58.9L631.92 58.9L631.92 60.26L632.61 60.26L632.61 61.39L632.92 61.39L632.92 62.82L630.31 62.82L630.31 64.01L632.28 64.01L632.28 65.05L632.68 65.05L632.68 66.22L631.57 66.22L631.57 67.35L632.2 67.35L632.2 68.54L632.47 68.54L632.47 69.82L632.67 69.82L632.67 70.98L630.68 70.98L630.68 72.57L631.18 72.57L631.18 74.21L632.77 74.21L632.77 75.18L631.39 75.18L631.39 77.15L630.78 77.15L630.78 78.85L630.13 78.85L630.13 80.77L632.32 80.77L632.32 81.71L632.07 81.71L632.07 83.3L632.99 83.3L632.99 84.65L631.93 84.65L631.93 85.47L632.05 85.47L632.05 87.14L631.69 87.14L631.69 88.74L632.66 88.74L632.66 90.69L632.64 90.69L632.64 91.75L630.33 91.75L630.33 93.26L631.01 93.26L631.01 95.16L631.66 95.16L631.66 96.24L631.78 96.24L631.78 97.99L630.88 97.99L630.88 99.52L632.14 99.52L632.14 101.49L630.99 101.49L630.99 102.57L632.73 102.57L632.73 104.09L631.27 104.09L631.27 105.54L632.96 105.54L632.96 106.48L632.53 106.48L632.53 107.46L632.37 107.46L632.37 109.24L629.28 109.24L629.28 110.93L632.98 110.93L632.98 112.93L630.5 112.93L630.5 113.97L632.81 113.97L632.81 115.4L632.14 115.4L632.14 116.36L632.95 116.36L632.95 118.28L631.24 118.28L631.24 119.15L632.14 119.15L632.14 120.71L631.62 120.71L631.62 121.84L632.93 121.84L632.93 122.81L630.15 122.81L630.15 123.98L632.23 123.98L632.23 125.49L632.64 125.49L632.64 126.97L632.26 126.97L632.26 128.21L631.75 128.21L631.75 129.46L631.72 129.46L631.72 131.26L630.13 131.26L630.13 132.24L630.28 132.24L630.28 133.26L630.75 133.26L630.75 134.28L632.16 134.28L632.16 136.04L632.14 136.04L632.14 136.88L630.98 136.88L630.98 138.73L630.08 138.73L630.08 140.54L631.23 140.54L631.23 141.86L630.62 141.86L630.62 143.14L630.4 143.14L630.4 144.13L631.58 144.13L631.58 145.65L632.91 145.65L632.91 146L631 146.14L629 145.64L627 145.42L625 145.87L623 146.04L621 146.18L619 145.94L617 146.28L615 145.56L613 145.52L611 145.8L609 146.06L607 146.17L605 145.47L603 146L601 145.75L599 145.93L597 145.5L595 145.56L593 146.04L591 145.74L589 146.38L587 145.91L585 145.75L583 145.59L581 145.93L579 145.91L577 145.66L575 146.37L573 145.91L571 146.17L569 146.08L567 146.23L565 145.5L563 146.36L561 146L559 145.56L557 145.99L555 145.46L553 145.82L551 145.5L549 145.45L547 145.85L545 146.24L543 146.16L541 146.34L539 146.18L537 146.02L535 146L533 146.36L531 145.53L529 145.92L527 145.94L525 145.41L523 146.28L521 146.08L519 145.74L517 146.19L515 145.88L513 146.13L511 145.95L509 146.26L506.01 146L506.01 144.28L506.36 144.28L506.36 142.36L506.11 142.36L506.11 140.56L508.61 140.56L508.61 139.45L507.14 139.45L507.14 138.6L508.92 138.6L508.92 137.32L506.81 137.32L506.81 135.45L508.31 135.45L508.31 134.51L506.01 134.51L506.01 133.06L506 133.06L506 131.76L506.72 131.76L506.72 130.32L508.26 130.32L508.26 128.83L506.63 128.83L506.63 127.39L506.11 127.39L506.11 125.98L510.35 125.98L510.35 124.81L507.85 124.81L507.85 123.71L506.92 123.71L506.92 121.78L505.94 121.78L505.94 119.8L506.72 119.8L506.72 118.2L506.35 118.2L506.35 116.56L505.53 116.56L505.53 115.15L507.85 115.15L507.85 114L507.18 114L507.18 112.72L505.97 112.72L505.97 111.68L505.85 111.68L505.85 109.72L505.81 109.72L505.81 108.23L506.56 108.23L506.56 107.22L505.55 107.22L505.55 105.63L505.71 105.63L505.71 104.04L506.05 104.04L506.05 103.07L507.04 103.07L507.04 101.95L508.83 101.95L508.83 100.24L506.34 100.24L506.34 98.88L505.74 98.88L505.74 97.97L505.69 97.97L505.69 96.26L508.86 96.26L508.86 95.06L507.63 95.06L507.63 93.4L507.74 93.4L507.74 91.5L506.65 91.5L506.65 89.63L505.56 89.63L505.56 88.6L506.93 88.6L506.93 86.81L506.78 86.81L506.78 84.81L509.65 84.81L509.65 83.33L506.18 83.33L506.18 82.07L506.1 82.07L506.1 81.19L508.38 81.19L508.38 80.28L505.9 80.28L505.9 79.39L507.12 79.39L507.12 77.82L506.46 77.82L506.46 75.96L507.86 75.96L507.86 74.35L508.81 74.35L508.81 72.87L506.82 72.87L506.82 72.03L506.67 72.03L506.67 70.22L505.6 70.22L505.6 68.88L506.6 68.88L506.6 67.39L506.78 67.39L506.78 66.51L508.61 66.51L508.61 64.82L506.62 64.82L506.62 63.76L508.07 63.76L508.07 62.93L508.56 62.93L508.56 61.18L507.5 61.18L507.5 59.65L507.24 59.65L507.24 58.59L507.3 58.59L507.3 57.76L508.66 57.76L508.66 55.93L506.38 55.93L506.38 53.99L505.88 53.99L505.88 52.85L505.51 52.85L505.51 51.88L505.94 51.88L505.94 50.16L505.5 50.16L505.5 49.16L505.5 49.16L505.5 47.75L505.58 47.75L505.58 46.95L506.77 46.95L506.77 45.66L506.6 45.66L506.6 44.42L508.83 44.42L508.83 43.46L508.02 43.46L508.02 42.01L506.01 42.01L506.01 40.13L506.19 40.13L506.19 39L508.44 39L508.44 37.41L507.11 37.41L507.11 36.32L507.31 36.32L507.31 35.17L509.35 35.17L509.35 33.35L506.05 33.35L506.05 31.9L505.82 31.9L505.82 30.45L505.9 30.45L505.9 28.98L507.81 28.98L507.81 27.09L506.18 27.09L506.18 25.82L505.57 25.82L505.57 24.04L506.68 24.04L506.68 22.36L510.45 22.36L510.45 21.12L506.49 21.12L506.49 19.26L507.91 19.26L507.91 17.54L506.01 17.54L506.01 16.67L505.86 16.67L505.86 15.84L507.7 15.84L507.7 13.85L505.98 13.85L505.98 12.82L509.77 12.82L509.77 10.86L506.01 10.86L506.01 9.4L505.81 9.4L505.81 8Z"/></clipPath>
<clipPath id="bclip"><rect x="64" y="331.5" width="600.5" height="168.8"/></clipPath></defs>
<rect x="43" y="2.1" width="146" height="153.3" fill="#800000"/>
<g clip-path="url(#cpa)"><g filter="url(#nA)">
<rect x="53" y="11" width="126.5" height="138.5" fill="url(#ga_h)"/>
<ellipse cx="140" cy="100" rx="34" ry="38" fill="url(#rg_a)"/>
<rect x="60" y="128" width="113" height="16" fill="url(#gv_a)"/>
<path d="M53 11H179.5V149.5H53Z M59.6 16.2H173.4V143.9H59.6Z" fill="#525252" fill-rule="evenodd"/>
</g></g>
<rect x="60.6" y="17.1" width="111.9" height="125.9" fill="none" stroke="#ff0a0a" stroke-width="2.3"/>
<rect x="194.6" y="2.1" width="145.3" height="153.3" fill="#800000"/>
<g clip-path="url(#cpb)"><g filter="url(#nB)">
<rect x="203" y="8.8" width="125.8" height="138.2" fill="url(#gb_h)"/>
<rect x="203" y="8.8" width="125.8" height="138.2" fill="url(#gv_b)"/>
</g></g>
<rect x="344.6" y="2.1" width="145.5" height="153.3" fill="#800000"/>
<g clip-path="url(#cpc)"><g filter="url(#nC)">
<rect x="352" y="8.5" width="128.5" height="138.3" fill="url(#gc_h)"/>
<rect x="352" y="8.5" width="128.5" height="138.3" fill="url(#gv_c)"/>
</g></g>
<rect x="496.8" y="2.1" width="145.4" height="153.3" fill="#800000"/>
<g clip-path="url(#cpd)"><g filter="url(#nD)">
<rect x="505.5" y="8" width="127.5" height="138" fill="url(#gd_h)"/>
<rect x="505.5" y="8" width="127.5" height="138" fill="url(#gv_d)"/>
</g></g>
<rect x="43" y="2.1" width="25" height="23.1" fill="#ffffff" fill-opacity="0.84"/>
<rect x="194.8" y="2.1" width="24.1" height="23.1" fill="#ffffff" fill-opacity="0.84"/>
<rect x="344.8" y="2.1" width="24.1" height="23.1" fill="#ffffff" fill-opacity="0.84"/>
<rect x="497" y="2.1" width="24.2" height="23.1" fill="#ffffff" fill-opacity="0.84"/>
<text transform="translate(44.3 19.78)" font-size="20.5" fill="#111">a</text>
<text transform="translate(58.73 19.78)" font-size="20.5" fill="#111">)</text>
<text transform="translate(195.75 19.28)" font-size="20.5" fill="#111">b</text>
<text transform="translate(209.43 19.43)" font-size="20.5" fill="#111">)</text>
<text transform="translate(346.42 19.43)" font-size="20.5" fill="#111">c</text>
<text transform="translate(358.23 19.28)" font-size="20.5" fill="#111">)</text>
<text transform="translate(498.62 19.43)" font-size="20.5" fill="#111">d</text>
<text transform="translate(512.98 19.43)" font-size="20.5" fill="#111">)</text>
<rect x="78.69" y="269.73" width="8.82" height="21.97" fill="#8080fa" stroke="#6c6ce8" stroke-width="0.6"/>
<rect x="87.51" y="264.56" width="8.82" height="27.14" fill="#8080fa" stroke="#6c6ce8" stroke-width="0.6"/>
<rect x="96.34" y="206.39" width="8.82" height="85.31" fill="#8080fa" stroke="#6c6ce8" stroke-width="0.6"/>
<rect x="105.16" y="206.39" width="8.82" height="85.31" fill="#8080fa" stroke="#6c6ce8" stroke-width="0.6"/>
<rect x="113.99" y="224.16" width="8.82" height="67.54" fill="#8080fa" stroke="#6c6ce8" stroke-width="0.6"/>
<rect x="122.81" y="288.15" width="8.82" height="3.55" fill="#8080fa" stroke="#6c6ce8" stroke-width="0.6"/>
<polyline points="47.8,291.7 48.51,291.7 49.21,291.7 49.92,291.7 50.62,291.7 51.33,291.7 52.04,291.7 52.74,291.7 53.45,291.7 54.15,291.7 54.86,291.7 55.57,291.7 56.27,291.7 56.98,291.7 57.68,291.7 58.39,291.7 59.1,291.7 59.8,291.7 60.51,291.7 61.21,291.7 61.92,291.7 62.63,291.7 63.33,291.7 64.04,291.7 64.74,291.7 65.45,291.7 66.16,291.7 66.86,291.7 67.57,291.7 68.27,291.7 68.98,291.7 69.69,291.69 70.39,291.69 71.1,291.69 71.8,291.68 72.51,291.67 73.22,291.66 73.92,291.65 74.63,291.63 75.33,291.6 76.04,291.57 76.75,291.53 77.45,291.47 78.16,291.4 78.86,291.3 79.57,291.18 80.28,291.02 80.98,290.83 81.69,290.58 82.39,290.28 83.1,289.91 83.81,289.45 84.51,288.9 85.22,288.23 85.92,287.43 86.63,286.49 87.34,285.38 88.04,284.08 88.75,282.58 89.45,280.85 90.16,278.89 90.87,276.66 91.57,274.17 92.28,271.41 92.98,268.36 93.69,265.03 94.4,261.43 95.1,257.57 95.81,253.48 96.51,249.18 97.22,244.71 97.93,240.11 98.63,235.44 99.34,230.76 100.04,226.13 100.75,221.61 101.46,217.28 102.16,213.2 102.87,209.45 103.57,206.1 104.28,203.2 104.99,200.81 105.69,198.97 106.4,197.73 107.1,197.1 107.81,197.1 108.52,197.73 109.22,198.97 109.93,200.81 110.63,203.2 111.34,206.1 112.05,209.45 112.75,213.2 113.46,217.28 114.16,221.61 114.87,226.13 115.58,230.76 116.28,235.44 116.99,240.11 117.69,244.71 118.4,249.18 119.11,253.48 119.81,257.57 120.52,261.43 121.22,265.03 121.93,268.36 122.64,271.41 123.34,274.17 124.05,276.66 124.75,278.89 125.46,280.85 126.17,282.58 126.87,284.08 127.58,285.38 128.28,286.49 128.99,287.43 129.7,288.23 130.4,288.9 131.11,289.45 131.81,289.91 132.52,290.28 133.23,290.58 133.93,290.83 134.64,291.02 135.34,291.18 136.05,291.3 136.76,291.4 137.46,291.47 138.17,291.53 138.87,291.57 139.58,291.6 140.29,291.63 140.99,291.65 141.7,291.66 142.4,291.67 143.11,291.68 143.82,291.69 144.52,291.69 145.23,291.69 145.93,291.7 146.64,291.7 147.35,291.7 148.05,291.7 148.76,291.7 149.46,291.7 150.17,291.7 150.88,291.7 151.58,291.7 152.29,291.7 152.99,291.7 153.7,291.7 154.41,291.7 155.11,291.7 155.82,291.7 156.52,291.7 157.23,291.7 157.94,291.7 158.64,291.7 159.35,291.7 160.05,291.7 160.76,291.7 161.47,291.7 162.17,291.7 162.88,291.7 163.58,291.7 164.29,291.7 165,291.7 165.7,291.7 166.41,291.7 167.11,291.7 167.82,291.7 168.53,291.7 169.23,291.7 169.94,291.7 170.64,291.7 171.35,291.7 172.06,291.7 172.76,291.7 173.47,291.7 174.17,291.7 174.88,291.7 175.59,291.7 176.29,291.7 177,291.7 177.7,291.7 178.41,291.7 179.12,291.7 179.82,291.7 180.53,291.7 181.23,291.7 181.94,291.7 182.65,291.7 183.35,291.7 184.06,291.7 184.76,291.7 185.47,291.7 186.18,291.7 186.88,291.7 187.59,291.7 188.29,291.7 189,291.7" fill="none" stroke="#f83040" stroke-width="1.3"/>
<line x1="107.46" y1="199.02" x2="107.46" y2="291.7" stroke="#2a2a58" stroke-width="1.3" stroke-dasharray="2.2 2.9"/>
<rect x="47.8" y="178.6" width="141.2" height="113.1" fill="none" stroke="#8e8e8e" stroke-width="1.2"/>
<path d="M65.45 291.7v-1.6M65.45 178.6v1.6M83.1 291.7v-1.6M83.1 178.6v1.6M100.75 291.7v-1.6M100.75 178.6v1.6M118.4 291.7v-1.6M118.4 178.6v1.6M136.05 291.7v-1.6M136.05 178.6v1.6M153.7 291.7v-1.6M153.7 178.6v1.6M171.35 291.7v-1.6M171.35 178.6v1.6M47.8 275.54h1.6M189 275.54h-1.6M47.8 259.39h1.6M189 259.39h-1.6M47.8 243.23h1.6M189 243.23h-1.6M47.8 227.07h1.6M189 227.07h-1.6M47.8 210.91h1.6M189 210.91h-1.6M47.8 194.76h1.6M189 194.76h-1.6" stroke="#7a7a7a" stroke-width="1" fill="none"/>
<text transform="translate(65.72 307.15) scale(1.1555 1)" font-size="15.07" fill="#1a1a1a">850</text>
<text transform="translate(135.11 307.15) scale(1.1665 1)" font-size="15.07" fill="#1a1a1a">852</text>
<text transform="translate(52.84 197.95)" font-size="21.5" fill="#111">e</text>
<text transform="translate(66.44 197.59)" font-size="21.5" fill="#111">)</text>
<text transform="translate(102.5 194.02)" font-size="14" fill="#111">λ</text>
<text transform="translate(109.91 194.21)" font-size="9.6" fill="#111">0</text>
<rect x="263.34" y="263.91" width="8.82" height="27.79" fill="#8080fa" stroke="#6c6ce8" stroke-width="0.6"/>
<rect x="272.16" y="219.32" width="8.82" height="72.38" fill="#8080fa" stroke="#6c6ce8" stroke-width="0.6"/>
<rect x="280.98" y="210.27" width="8.82" height="81.43" fill="#8080fa" stroke="#6c6ce8" stroke-width="0.6"/>
<rect x="289.8" y="230.95" width="8.82" height="60.75" fill="#8080fa" stroke="#6c6ce8" stroke-width="0.6"/>
<rect x="298.62" y="249.37" width="8.82" height="42.33" fill="#8080fa" stroke="#6c6ce8" stroke-width="0.6"/>
<rect x="307.43" y="287.5" width="8.82" height="4.2" fill="#8080fa" stroke="#6c6ce8" stroke-width="0.6"/>
<polyline points="197.2,291.7 197.91,291.7 198.61,291.7 199.32,291.7 200.02,291.7 200.73,291.7 201.43,291.7 202.14,291.7 202.84,291.7 203.55,291.7 204.26,291.7 204.96,291.7 205.67,291.7 206.37,291.7 207.08,291.7 207.78,291.7 208.49,291.7 209.19,291.7 209.9,291.7 210.6,291.7 211.31,291.7 212.02,291.7 212.72,291.7 213.43,291.7 214.13,291.7 214.84,291.7 215.54,291.7 216.25,291.7 216.95,291.7 217.66,291.7 218.37,291.7 219.07,291.7 219.78,291.7 220.48,291.7 221.19,291.7 221.89,291.7 222.6,291.7 223.3,291.7 224.01,291.7 224.71,291.7 225.42,291.7 226.13,291.7 226.83,291.7 227.54,291.7 228.24,291.7 228.95,291.7 229.65,291.7 230.36,291.7 231.06,291.7 231.77,291.69 232.47,291.69 233.18,291.69 233.89,291.69 234.59,291.69 235.3,291.68 236,291.68 236.71,291.67 237.41,291.66 238.12,291.66 238.82,291.65 239.53,291.63 240.24,291.62 240.94,291.6 241.65,291.57 242.35,291.54 243.06,291.51 243.76,291.47 244.47,291.42 245.17,291.36 245.88,291.29 246.58,291.2 247.29,291.1 248,290.99 248.7,290.85 249.41,290.69 250.11,290.51 250.82,290.29 251.52,290.05 252.23,289.76 252.93,289.44 253.64,289.07 254.35,288.64 255.05,288.17 255.76,287.63 256.46,287.02 257.17,286.34 257.87,285.58 258.58,284.74 259.28,283.81 259.99,282.78 260.69,281.65 261.4,280.42 262.11,279.07 262.81,277.61 263.52,276.03 264.22,274.34 264.93,272.52 265.63,270.58 266.34,268.52 267.04,266.34 267.75,264.05 268.46,261.65 269.16,259.15 269.87,256.55 270.57,253.87 271.28,251.12 271.98,248.31 272.69,245.46 273.39,242.58 274.1,239.69 274.81,236.81 275.51,233.96 276.22,231.16 276.92,228.43 277.63,225.8 278.33,223.27 279.04,220.89 279.74,218.66 280.45,216.6 281.15,214.74 281.86,213.09 282.57,211.66 283.27,210.48 283.98,209.55 284.68,208.87 285.39,208.47 286.09,208.33 286.8,208.47 287.5,208.87 288.21,209.55 288.92,210.48 289.62,211.66 290.33,213.09 291.03,214.74 291.74,216.6 292.44,218.66 293.15,220.89 293.85,223.27 294.56,225.8 295.26,228.43 295.97,231.16 296.68,233.96 297.38,236.81 298.09,239.69 298.79,242.58 299.5,245.46 300.2,248.31 300.91,251.12 301.61,253.87 302.32,256.55 303.02,259.15 303.73,261.65 304.44,264.05 305.14,266.34 305.85,268.52 306.55,270.58 307.26,272.52 307.96,274.34 308.67,276.03 309.37,277.61 310.08,279.07 310.79,280.42 311.49,281.65 312.2,282.78 312.9,283.81 313.61,284.74 314.31,285.58 315.02,286.34 315.72,287.02 316.43,287.63 317.13,288.17 317.84,288.64 318.55,289.07 319.25,289.44 319.96,289.76 320.66,290.05 321.37,290.29 322.07,290.51 322.78,290.69 323.48,290.85 324.19,290.99 324.9,291.1 325.6,291.2 326.31,291.29 327.01,291.36 327.72,291.42 328.42,291.47 329.13,291.51 329.83,291.54 330.54,291.57 331.24,291.6 331.95,291.62 332.66,291.63 333.36,291.65 334.07,291.66 334.77,291.66 335.48,291.67 336.18,291.68 336.89,291.68 337.59,291.69 338.3,291.69" fill="none" stroke="#f83040" stroke-width="1.3"/>
<line x1="286.09" y1="210.33" x2="286.09" y2="291.7" stroke="#2a2a58" stroke-width="1.3" stroke-dasharray="2.2 2.9"/>
<rect x="197.2" y="178.6" width="141.1" height="113.1" fill="none" stroke="#8e8e8e" stroke-width="1.2"/>
<path d="M214.84 291.7v-1.6M214.84 178.6v1.6M232.47 291.7v-1.6M232.47 178.6v1.6M250.11 291.7v-1.6M250.11 178.6v1.6M267.75 291.7v-1.6M267.75 178.6v1.6M285.39 291.7v-1.6M285.39 178.6v1.6M303.02 291.7v-1.6M303.02 178.6v1.6M320.66 291.7v-1.6M320.66 178.6v1.6M197.2 275.54h1.6M338.3 275.54h-1.6M197.2 259.39h1.6M338.3 259.39h-1.6M197.2 243.23h1.6M338.3 243.23h-1.6M197.2 227.07h1.6M338.3 227.07h-1.6M197.2 210.91h1.6M338.3 210.91h-1.6M197.2 194.76h1.6M338.3 194.76h-1.6" stroke="#7a7a7a" stroke-width="1" fill="none"/>
<text transform="translate(218.82 307.15) scale(1.1555 1)" font-size="15.07" fill="#1a1a1a">850</text>
<text transform="translate(288.31 307.15) scale(1.1665 1)" font-size="15.07" fill="#1a1a1a">852</text>
<text transform="translate(204.43 198.54)" font-size="21.5" fill="#111">f</text>
<text transform="translate(212.49 198.49)" font-size="21.5" fill="#111">)</text>
<text transform="translate(281.1 203.47)" font-size="14" fill="#111">λ</text>
<text transform="translate(288.22 203.98)" font-size="9.6" fill="#111">b</text>
<rect x="413.75" y="283.3" width="8.79" height="8.4" fill="#8080fa" stroke="#6c6ce8" stroke-width="0.6"/>
<rect x="422.55" y="242.91" width="8.79" height="48.79" fill="#8080fa" stroke="#6c6ce8" stroke-width="0.6"/>
<rect x="431.34" y="230.95" width="8.79" height="60.75" fill="#8080fa" stroke="#6c6ce8" stroke-width="0.6"/>
<rect x="440.13" y="212.85" width="8.79" height="78.85" fill="#8080fa" stroke="#6c6ce8" stroke-width="0.6"/>
<rect x="448.93" y="214.79" width="8.79" height="76.91" fill="#8080fa" stroke="#6c6ce8" stroke-width="0.6"/>
<rect x="457.72" y="280.07" width="8.79" height="11.63" fill="#8080fa" stroke="#6c6ce8" stroke-width="0.6"/>
<rect x="466.52" y="289.11" width="8.79" height="2.59" fill="#8080fa" stroke="#6c6ce8" stroke-width="0.6"/>
<polyline points="347.8,291.7 348.5,291.7 349.21,291.7 349.91,291.7 350.61,291.7 351.32,291.7 352.02,291.7 352.72,291.7 353.43,291.7 354.13,291.7 354.84,291.7 355.54,291.7 356.24,291.7 356.95,291.7 357.65,291.7 358.35,291.7 359.06,291.7 359.76,291.7 360.46,291.7 361.17,291.7 361.87,291.7 362.57,291.7 363.28,291.7 363.98,291.7 364.68,291.7 365.39,291.7 366.09,291.7 366.79,291.7 367.5,291.7 368.2,291.7 368.91,291.7 369.61,291.7 370.31,291.7 371.02,291.7 371.72,291.7 372.42,291.7 373.13,291.7 373.83,291.7 374.53,291.7 375.24,291.7 375.94,291.7 376.64,291.7 377.35,291.7 378.05,291.7 378.75,291.7 379.46,291.7 380.16,291.7 380.86,291.7 381.57,291.7 382.27,291.7 382.98,291.7 383.68,291.7 384.38,291.7 385.09,291.7 385.79,291.7 386.49,291.7 387.2,291.7 387.9,291.7 388.6,291.7 389.31,291.7 390.01,291.69 390.71,291.69 391.42,291.69 392.12,291.69 392.82,291.68 393.53,291.68 394.23,291.67 394.93,291.67 395.64,291.66 396.34,291.65 397.04,291.64 397.75,291.62 398.45,291.6 399.16,291.58 399.86,291.55 400.56,291.52 401.27,291.48 401.97,291.43 402.67,291.38 403.38,291.31 404.08,291.23 404.78,291.13 405.49,291.02 406.19,290.89 406.89,290.74 407.6,290.56 408.3,290.35 409,290.11 409.71,289.84 410.41,289.52 411.11,289.16 411.82,288.75 412.52,288.28 413.23,287.75 413.93,287.16 414.63,286.49 415.34,285.74 416.04,284.91 416.74,283.99 417.45,282.97 418.15,281.86 418.85,280.63 419.56,279.3 420.26,277.84 420.96,276.27 421.67,274.58 422.37,272.77 423.07,270.83 423.78,268.77 424.48,266.59 425.19,264.29 425.89,261.89 426.59,259.37 427.3,256.76 428,254.07 428.7,251.3 429.41,248.47 430.11,245.59 430.81,242.69 431.52,239.77 432.22,236.86 432.92,233.98 433.63,231.15 434.33,228.39 435.03,225.72 435.74,223.17 436.44,220.75 437.14,218.49 437.85,216.4 438.55,214.51 439.26,212.84 439.96,211.39 440.66,210.19 441.37,209.24 442.07,208.56 442.77,208.14 443.48,208.01 444.18,208.14 444.88,208.56 445.59,209.24 446.29,210.19 446.99,211.39 447.7,212.84 448.4,214.51 449.1,216.4 449.81,218.49 450.51,220.75 451.21,223.17 451.92,225.72 452.62,228.39 453.32,231.15 454.03,233.98 454.73,236.86 455.44,239.77 456.14,242.69 456.84,245.59 457.55,248.47 458.25,251.3 458.95,254.07 459.66,256.76 460.36,259.37 461.06,261.89 461.77,264.29 462.47,266.59 463.17,268.77 463.88,270.83 464.58,272.77 465.28,274.58 465.99,276.27 466.69,277.84 467.39,279.3 468.1,280.63 468.8,281.86 469.51,282.97 470.21,283.99 470.91,284.91 471.62,285.74 472.32,286.49 473.02,287.16 473.73,287.75 474.43,288.28 475.13,288.75 475.84,289.16 476.54,289.52 477.24,289.84 477.95,290.11 478.65,290.35 479.35,290.56 480.06,290.74 480.76,290.89 481.46,291.02 482.17,291.13 482.87,291.23 483.58,291.31 484.28,291.38 484.98,291.43 485.69,291.48 486.39,291.52 487.09,291.55 487.8,291.58 488.5,291.6" fill="none" stroke="#f83040" stroke-width="1.3"/>
<line x1="443.48" y1="210.01" x2="443.48" y2="291.7" stroke="#2a2a58" stroke-width="1.3" stroke-dasharray="2.2 2.9"/>
<rect x="347.8" y="178.6" width="140.7" height="113.1" fill="none" stroke="#8e8e8e" stroke-width="1.2"/>
<path d="M365.39 291.7v-1.6M365.39 178.6v1.6M382.98 291.7v-1.6M382.98 178.6v1.6M400.56 291.7v-1.6M400.56 178.6v1.6M418.15 291.7v-1.6M418.15 178.6v1.6M435.74 291.7v-1.6M435.74 178.6v1.6M453.32 291.7v-1.6M453.32 178.6v1.6M470.91 291.7v-1.6M470.91 178.6v1.6M347.8 275.54h1.6M488.5 275.54h-1.6M347.8 259.39h1.6M488.5 259.39h-1.6M347.8 243.23h1.6M488.5 243.23h-1.6M347.8 227.07h1.6M488.5 227.07h-1.6M347.8 210.91h1.6M488.5 210.91h-1.6M347.8 194.76h1.6M488.5 194.76h-1.6" stroke="#7a7a7a" stroke-width="1" fill="none"/>
<text transform="translate(371.02 307.15) scale(1.1555 1)" font-size="15.07" fill="#1a1a1a">850</text>
<text transform="translate(440.41 307.15) scale(1.1665 1)" font-size="15.07" fill="#1a1a1a">852</text>
<text transform="translate(353.5 198.24)" font-size="21.5" fill="#111">g</text>
<text transform="translate(367.59 198.24)" font-size="21.5" fill="#111">)</text>
<text transform="translate(438.75 203.47)" font-size="14" fill="#111">λ</text>
<text transform="translate(446.18 203.79)" font-size="9.6" fill="#111">c</text>
<rect x="565.45" y="287.5" width="8.81" height="4.2" fill="#8080fa" stroke="#6c6ce8" stroke-width="0.6"/>
<rect x="574.25" y="256.8" width="8.81" height="34.9" fill="#8080fa" stroke="#6c6ce8" stroke-width="0.6"/>
<rect x="583.06" y="246.78" width="8.81" height="44.92" fill="#8080fa" stroke="#6c6ce8" stroke-width="0.6"/>
<rect x="591.87" y="208.65" width="8.81" height="83.05" fill="#8080fa" stroke="#6c6ce8" stroke-width="0.6"/>
<rect x="600.67" y="189.26" width="8.81" height="102.44" fill="#8080fa" stroke="#6c6ce8" stroke-width="0.6"/>
<rect x="609.48" y="277.48" width="8.81" height="14.22" fill="#8080fa" stroke="#6c6ce8" stroke-width="0.6"/>
<rect x="618.28" y="288.47" width="8.81" height="3.23" fill="#8080fa" stroke="#6c6ce8" stroke-width="0.6"/>
<polyline points="499.4,291.7 500.1,291.7 500.81,291.7 501.51,291.7 502.22,291.7 502.92,291.7 503.63,291.7 504.33,291.7 505.04,291.7 505.74,291.7 506.45,291.7 507.15,291.7 507.85,291.7 508.56,291.7 509.26,291.7 509.97,291.7 510.67,291.7 511.38,291.7 512.08,291.7 512.79,291.7 513.49,291.7 514.19,291.7 514.9,291.7 515.6,291.7 516.31,291.7 517.01,291.7 517.72,291.7 518.42,291.7 519.13,291.7 519.83,291.7 520.54,291.7 521.24,291.7 521.94,291.7 522.65,291.7 523.35,291.7 524.06,291.7 524.76,291.7 525.47,291.7 526.17,291.7 526.88,291.7 527.58,291.7 528.28,291.7 528.99,291.7 529.69,291.7 530.4,291.7 531.1,291.7 531.81,291.7 532.51,291.7 533.22,291.7 533.92,291.7 534.62,291.7 535.33,291.7 536.03,291.7 536.74,291.7 537.44,291.7 538.15,291.7 538.85,291.7 539.56,291.7 540.26,291.7 540.97,291.7 541.67,291.7 542.37,291.7 543.08,291.7 543.78,291.7 544.49,291.7 545.19,291.7 545.9,291.7 546.6,291.7 547.31,291.7 548.01,291.7 548.71,291.7 549.42,291.7 550.12,291.7 550.83,291.7 551.53,291.7 552.24,291.7 552.94,291.7 553.65,291.7 554.35,291.7 555.06,291.7 555.76,291.7 556.46,291.7 557.17,291.7 557.87,291.7 558.58,291.7 559.28,291.7 559.99,291.7 560.69,291.69 561.4,291.69 562.1,291.69 562.8,291.69 563.51,291.68 564.21,291.67 564.92,291.66 565.62,291.65 566.33,291.63 567.03,291.6 567.74,291.57 568.44,291.52 569.15,291.47 569.85,291.39 570.55,291.3 571.26,291.18 571.96,291.03 572.67,290.84 573.37,290.6 574.08,290.31 574.78,289.95 575.49,289.51 576.19,288.97 576.9,288.33 577.6,287.57 578.3,286.66 579.01,285.59 579.71,284.35 580.42,282.91 581.12,281.25 581.83,279.36 582.53,277.21 583.24,274.81 583.94,272.13 584.64,269.17 585.35,265.93 586.05,262.41 586.76,258.63 587.46,254.59 588.17,250.32 588.87,245.86 589.58,241.24 590.28,236.51 590.99,231.73 591.69,226.94 592.39,222.21 593.1,217.62 593.8,213.23 594.51,209.11 595.21,205.32 595.92,201.94 596.62,199.02 597.33,196.62 598.03,194.78 598.73,193.53 599.44,192.9 600.14,192.9 600.85,193.53 601.55,194.78 602.26,196.62 602.96,199.02 603.67,201.94 604.37,205.32 605.07,209.11 605.78,213.23 606.48,217.62 607.19,222.21 607.89,226.94 608.6,231.73 609.3,236.51 610.01,241.24 610.71,245.86 611.42,250.32 612.12,254.59 612.82,258.63 613.53,262.41 614.23,265.93 614.94,269.17 615.64,272.13 616.35,274.81 617.05,277.21 617.76,279.36 618.46,281.25 619.16,282.91 619.87,284.35 620.57,285.59 621.28,286.66 621.98,287.57 622.69,288.33 623.39,288.97 624.1,289.51 624.8,289.95 625.51,290.31 626.21,290.6 626.91,290.84 627.62,291.03 628.32,291.18 629.03,291.3 629.73,291.39 630.44,291.47 631.14,291.52 631.85,291.57 632.55,291.6 633.25,291.63 633.96,291.65 634.66,291.66 635.37,291.67 636.07,291.68 636.78,291.69 637.48,291.69 638.19,291.69 638.89,291.69 639.6,291.7 640.3,291.7" fill="none" stroke="#f83040" stroke-width="1.3"/>
<line x1="599.79" y1="194.82" x2="599.79" y2="291.7" stroke="#2a2a58" stroke-width="1.3" stroke-dasharray="2.2 2.9"/>
<rect x="499.4" y="178.6" width="140.9" height="113.1" fill="none" stroke="#8e8e8e" stroke-width="1.2"/>
<path d="M517.01 291.7v-1.6M517.01 178.6v1.6M534.62 291.7v-1.6M534.62 178.6v1.6M552.24 291.7v-1.6M552.24 178.6v1.6M569.85 291.7v-1.6M569.85 178.6v1.6M587.46 291.7v-1.6M587.46 178.6v1.6M605.07 291.7v-1.6M605.07 178.6v1.6M622.69 291.7v-1.6M622.69 178.6v1.6M499.4 275.54h1.6M640.3 275.54h-1.6M499.4 259.39h1.6M640.3 259.39h-1.6M499.4 243.23h1.6M640.3 243.23h-1.6M499.4 227.07h1.6M640.3 227.07h-1.6M499.4 210.91h1.6M640.3 210.91h-1.6M499.4 194.76h1.6M640.3 194.76h-1.6" stroke="#7a7a7a" stroke-width="1" fill="none"/>
<text transform="translate(523.52 307.15) scale(1.1555 1)" font-size="15.07" fill="#1a1a1a">850</text>
<text transform="translate(593.01 307.15) scale(1.1665 1)" font-size="15.07" fill="#1a1a1a">852</text>
<text transform="translate(504.43 198.64)" font-size="21.5" fill="#111">h</text>
<text transform="translate(518.49 198.34)" font-size="21.5" fill="#111">)</text>
<text transform="translate(591.2 190.92)" font-size="14" fill="#111">λ</text>
<text transform="translate(598.46 191.28)" font-size="9.6" fill="#111">d</text>
<text transform="translate(35.88 200.68)" font-size="15" fill="#1a1a1a">3</text>
<text transform="translate(36.02 233.35)" font-size="15" fill="#1a1a1a">2</text>
<text transform="translate(35.95 265.88)" font-size="15" fill="#1a1a1a">1</text>
<text transform="translate(35.8 298.07)" font-size="15" fill="#1a1a1a">0</text>
<text transform="translate(12.99 260.28) rotate(-90) scale(1.1640 1)" font-size="14.8" fill="#1a1a1a">Pixel</text>
<text transform="translate(26.2 291.68) rotate(-90) scale(1.17 1)" font-size="15" fill="#1a1a1a">Count (x10<tspan font-size="10" dy="-5.5">4</tspan><tspan dy="5.5">)</tspan></text>
<text transform="translate(280.61 321.9) scale(1.1647 1)" font-size="15" fill="#1a1a1a">Wavelength (nm)</text>
<g clip-path="url(#bclip)">
<polygon points="64,500.3 64.3,470 66.5,462 68.25,461.5 70,461 72,450.5 74,440 76,426.5 78,413 79.77,404.2 81.53,395.4 83.3,386.6 85.07,381.73 86.83,376.87 88.6,372 91.2,371.2 93.27,369 95.33,366.8 97.4,364.6 99.75,360.7 102.1,356.8 104.45,351.75 106.8,346.7 109.15,344.75 111.5,342.8 113.45,342.48 115.4,342.15 117.35,341.82 119.3,341.5 121.22,342.02 123.15,342.55 125.08,343.08 127,343.6 130.2,349 132.3,355.6 134.11,354.91 135.93,354.24 137.74,355.58 139.56,353.69 141.37,354.92 143.19,354.25 145,353.17 146.67,354.45 148.34,352.97 150.01,354.09 151.68,352.93 153.35,352.92 155.02,353.85 156.69,354.99 158.36,352.81 160.03,353.04 161.7,354.18 163.36,355.22 165.03,354.19 166.69,353.74 168.35,355.56 170.02,352.85 171.68,355.37 173.35,353.74 175.01,353.39 176.67,353.39 178.34,354.04 180,355.65 181.63,354.14 183.27,355.74 184.9,356.32 186.53,355.92 188.17,356.84 189.8,355.79 191.43,356.18 193.07,357.02 194.7,358.84 196.31,358.21 197.92,357.99 199.54,358.93 201.15,358.66 202.76,358.32 204.38,359.93 205.99,359.77 207.6,358.53 209.23,359.56 210.85,359.45 212.48,360.54 214.1,360.14 215.73,358.86 217.36,360.98 218.98,358.43 220.61,359.37 222.23,360.42 223.86,358.65 225.49,359.7 227.11,358.39 228.74,360.31 230.37,360.64 231.99,360.11 233.62,361.05 235.24,359.41 236.87,360.59 238.5,360.33 240.12,360.32 241.75,359.99 243.37,361.18 245,361.53 246.67,359.97 248.34,360.4 250.01,358.44 251.67,360.22 253.34,359.9 255.01,360.8 256.68,360.13 258.35,358.37 260.02,358.53 261.68,359.23 263.35,357.15 265.02,358.32 266.69,357.29 268.36,356.99 270.03,356.67 271.69,358.65 273.36,356.58 275.03,356.79 276.7,357.07 278.37,358.43 280.04,355.98 281.7,357 283.37,357.22 285.04,358.14 286.71,357.87 288.38,357.92 290.05,356.08 291.71,356.41 293.38,356.16 295.05,357.65 296.72,357.79 298.39,355.29 300.05,355.28 301.72,355.37 303.39,355.29 305.06,355.96 306.73,356.19 308.4,355.13 310.06,354.28 311.73,355.44 313.4,355.21 315.06,355.76 316.73,356.88 318.39,356.05 320.05,355.48 321.72,355.75 323.38,355.88 325.05,353.98 326.71,356.47 328.37,356.07 330.04,356.31 331.7,356.04 333.36,354.79 335.03,354.77 336.69,353.84 338.35,355.39 340.02,353.63 341.68,353.61 343.35,353.99 345.01,353.81 346.67,354.3 348.34,353.4 350,353.2 351.61,353.63 353.23,353.46 354.84,354.22 356.45,353.19 358.06,355.71 359.68,354.91 361.29,353.49 362.9,353.78 364.52,354.04 366.13,354.07 367.74,353.32 369.35,355.48 370.97,355.89 372.58,354.28 374.19,354.31 375.81,353.1 377.42,353.12 379.03,353.82 380.65,353.57 382.26,355.23 383.87,353.21 385.48,352.77 387.1,355.53 388.71,354.24 390.32,353.08 391.94,354.24 393.55,352.67 395.16,354.15 396.77,355.48 398.39,355.11 400,354.59 401.63,353.29 403.26,353.62 404.89,353.03 406.52,354.86 408.15,354.15 409.78,354.9 411.41,353.57 413.04,353.26 414.67,355.03 416.3,355.56 417.93,355.18 419.57,355.05 421.2,355.1 422.83,354.87 424.46,353.34 426.09,354.23 427.72,353.75 429.35,352.78 430.98,352.79 432.61,353.56 434.24,353.51 435.87,354.82 437.5,355.62 439.13,354.1 440.76,355.58 442.39,355.75 444.02,355.66 445.65,353.9 447.28,353.48 448.91,353.51 450.54,353.43 452.17,353.46 453.8,354.73 455.43,355.57 457.07,355.4 458.7,354.33 460.33,354.86 461.96,355.31 463.59,353.18 465.22,354.92 466.85,355.67 468.48,355.3 470.11,355.22 471.74,354.41 473.37,353.52 475,355.37 476.62,354 478.24,355.42 479.86,355.94 481.48,354.22 483.1,354.24 484.72,355.88 486.34,355.22 487.96,353.57 489.58,353.44 491.2,353.52 492.82,355.79 494.44,355.5 496.06,353.53 497.68,355.58 499.3,356.05 500.92,355.08 502.54,354.17 504.15,354.77 505.77,353.53 507.39,353.18 509.01,356.06 510.63,355.1 512.25,354.74 513.87,355.97 515.49,354.48 517.11,355.8 518.73,355.67 520.35,353.83 521.97,353.96 523.59,354.09 525.21,353.94 526.83,354.98 528.45,354.01 530.07,354.5 531.69,353.64 533.31,355.98 534.93,354.32 536.55,354.64 538.17,355.02 539.79,355.99 541.41,354.55 543.03,356.05 544.65,354.81 546.27,354.91 547.89,354.89 549.51,353.38 551.13,354.65 552.75,353.89 554.37,353.36 555.99,355.75 557.61,353.88 559.23,354.79 560.85,355.55 562.46,355.05 564.08,354.37 565.7,354.95 567.32,355.07 568.94,355.76 570.56,353.73 572.18,355.1 573.8,354.18 575.42,354.27 577.04,355.76 578.66,354.97 580.28,355.14 581.9,355.74 583.52,356.21 585.14,354.81 586.76,355.32 588.38,355.01 590,355.04 591.62,355.57 593.24,354.84 594.86,355.07 596.48,354.89 598.1,356.27 599.72,355.53 601.34,356.05 602.96,356.24 604.58,354.18 606.2,355.07 607.82,356.21 609.43,355.89 611.05,353.77 612.67,353.71 614.29,354.66 615.91,353.54 617.53,354.04 619.15,353.52 620.77,355.3 622.39,355.63 624.01,355.96 625.63,353.72 627.25,355.4 628.87,355.22 630.49,353.66 632.11,355.87 633.73,356.11 635.35,353.85 636.97,356.04 638.59,354.37 640.21,354.62 641.83,356.12 643.45,355.64 645.07,353.61 646.68,354.41 648.3,354.66 649.92,354.12 651.54,353.67 653.16,354.03 654.78,355.23 656.4,353.11 658.02,354.71 659.64,354.35 661.26,353.08 662.88,354.01 664.5,354.5 664.5,451.64 662.79,451.26 661.07,449.13 659.36,454.12 657.64,453.3 655.93,454.45 654.21,450.14 652.5,451.18 650.88,450.09 649.26,454.02 647.65,451.45 646.03,450.8 644.41,452.41 642.79,455.03 641.18,454.64 639.56,451.8 637.94,451.32 636.32,455.4 634.71,453.67 633.09,454.43 631.47,451.34 629.85,451.25 628.24,454.61 626.62,453.33 625,451.58 623.38,456.32 621.76,454.98 620.15,456.09 618.53,452.6 616.91,456.86 615.29,452.99 613.68,457.37 612.06,455.49 610.44,455.13 608.82,456.49 607.21,458.67 605.59,455.49 603.97,455.01 602.35,457.32 600.74,456.06 599.12,455.63 597.5,456.14 595.88,455.8 594.26,456.83 592.65,457.65 591.03,457.85 589.41,460.46 587.79,458.25 586.18,459.59 584.56,458.15 582.94,459.27 581.32,457.81 579.71,459.26 578.09,458.27 576.47,462.25 574.85,461.54 573.24,459.9 571.62,461.63 570,464.26 568.4,460.03 566.8,463.82 565.2,461.89 563.6,462.29 562,464.14 560.4,461.92 558.8,462.59 557.2,463.62 555.6,465.23 554,461.98 552.4,464.61 550.8,464.03 549.2,463.75 547.6,462.62 546,462.41 544.4,460.96 542.8,461.44 541.2,461.21 539.6,464.77 538,462.33 536.4,461.93 534.8,461.6 533.2,465.61 531.6,465.85 530,464.89 528.38,462.84 526.76,462.6 525.15,462.84 523.53,463.67 521.91,462.07 520.29,463.54 518.68,462.56 517.06,466.17 515.44,466.19 513.82,463.95 512.21,462.35 510.59,466.07 508.97,462.63 507.35,462.84 505.74,460.96 504.12,462.91 502.5,463.37 500.88,463.48 499.26,461.89 497.65,463.44 496.03,460.81 494.41,462.13 492.79,461.19 491.18,462.77 489.56,460.88 487.94,460.75 486.32,462.19 484.71,461.79 483.09,463.59 481.47,463.27 479.85,464.39 478.24,463.88 476.62,464.15 475,464.97 473.33,462.96 471.67,463.16 470,467.12 468.33,463.31 466.67,466.83 465,466.94 463.33,464.36 461.67,469.01 460,469.84 458.33,469 456.67,470.08 455,471.02 453.33,468.06 451.67,470.59 450,471.02 448.36,472.05 446.73,471.2 445.09,470.62 443.45,468.67 441.82,469.59 440.18,467.81 438.55,467.17 436.91,464.07 435.27,462.34 433.64,462.18 432,462.68 430.4,461.01 428.8,464.47 427.2,462.69 425.6,462.71 424,462.37 422.4,462.31 420.8,460.98 419.2,458.12 417.6,461.91 416,461.32 414.4,459.7 412.8,459.53 411.2,459.84 409.6,456.42 408,459.57 406.4,456.71 404.79,455.79 403.19,456.78 401.58,459.19 399.97,456.47 398.37,459.25 396.76,460.47 395.16,457.97 393.55,457.39 391.94,457.89 390.34,458.96 388.73,459.39 387.12,458.61 385.52,458.74 383.91,455.8 382.31,456.17 380.7,456.72 379.09,458.64 377.49,455.73 375.88,456.48 374.27,452.96 372.67,452.59 371.06,453.05 369.46,454.52 367.85,454 366.24,453.29 364.64,450.66 363.03,451.21 361.43,450.32 359.82,449.7 358.21,447.27 356.61,450.67 355,446.44 353.38,450.22 351.76,449.73 350.14,444.68 348.51,446.71 346.89,448.31 345.27,448.81 343.65,445.85 342.03,444.63 340.41,444.06 338.78,447.61 337.16,443.52 335.54,445.18 333.92,442.62 332.3,444.34 330.68,446.3 329.05,441.77 327.43,445.07 325.81,443.18 324.19,444.88 322.57,443.65 320.95,440.93 319.32,444.12 317.7,441.71 316.08,439.04 314.46,438.66 312.84,440.93 311.22,440.45 309.59,439.4 307.97,438.29 306.35,439.08 304.73,438.67 303.11,441.12 301.49,436.49 299.86,440.11 298.24,440.3 296.62,436.29 295,440.22 293.39,438.99 291.78,439.86 290.17,436.57 288.57,436.88 286.96,436.88 285.35,439.92 283.74,437.67 282.13,436.37 280.52,436.61 278.91,435.7 277.3,434.41 275.7,434.57 274.09,438.27 272.48,435.3 270.87,438.57 269.26,434.89 267.65,434.86 266.04,436.02 264.43,434.24 262.83,435.08 261.22,438 259.61,437.51 258,437.02 256.38,435.62 254.75,436.62 253.12,436.3 251.5,433.81 249.88,434.23 248.25,430.28 246.62,433.37 245,431.44 243.27,432.86 241.55,432.14 239.82,430.12 238.09,428.74 236.36,433.15 234.64,428.83 232.91,430.47 231.18,429.65 229.45,429.26 227.73,431.4 226,432.48 224.33,428.57 222.65,430.45 220.98,428.42 219.31,429.57 217.64,428.54 215.96,427.18 214.29,426.97 212.62,427.03 210.95,430.47 209.27,428.17 207.6,426.54 205.99,429.44 204.38,429.23 202.76,425.71 201.15,423.43 199.54,423.03 197.92,421.82 196.31,422.45 194.7,420.47 193.07,420.73 191.43,420.32 189.8,421.43 188.17,422.57 186.53,421.34 184.9,419.08 183.27,418.57 181.63,418.64 180,417.36 178.34,416.99 176.67,415.38 175.01,416.32 173.35,419.74 171.68,415.19 170.02,416.98 168.35,417.46 166.69,418.51 165.03,414.97 163.36,415.08 161.7,414.79 159.96,415.54 158.21,415.73 156.47,418.33 154.73,417.74 152.99,417.82 151.24,413.36 149.5,413.37 147.86,417.36 146.21,418.8 144.57,417.08 142.93,418.14 141.29,415.56 139.64,418.06 138,421.32 136.12,422.24 134.25,423.85 132.38,423.45 130.5,424.9 128.85,431.5 127.2,438.1 124.8,449.7 123.13,449.7 121.47,449.7 119.8,449.7 117.87,449.23 115.93,448.77 114,448.3 112.35,449.8 110.7,451.3 109.05,459.6 107.4,467.9 105.35,474.45 103.3,481 101.63,484.33 99.97,487.67 98.3,491 96.53,494.1 94.77,497.2 93,500.3" fill="#fff3f2"/>
<g fill="#ff6464" fill-opacity="0.33" stroke="#ff5a5a" stroke-opacity="0.25" stroke-width="0.5">
<circle cx="63.6" cy="459.6" r="2.4"/>
<circle cx="65.8" cy="496.8" r="2.4"/>
<circle cx="68.02" cy="499.11" r="2.4"/>
<circle cx="70.24" cy="499.75" r="2.4"/>
<circle cx="72.47" cy="498.15" r="2.4"/>
<circle cx="74.69" cy="493.22" r="2.4"/>
<circle cx="76.91" cy="480.67" r="2.4"/>
<circle cx="79.13" cy="470.71" r="2.4"/>
<circle cx="81.35" cy="461.46" r="2.4"/>
<circle cx="83.58" cy="456.05" r="2.4"/>
<circle cx="85.8" cy="445.1" r="2.4"/>
<circle cx="88.02" cy="442.73" r="2.4"/>
<circle cx="90.24" cy="438.14" r="2.4"/>
<circle cx="92.46" cy="434.41" r="2.4"/>
<circle cx="94.69" cy="431.11" r="2.4"/>
<circle cx="96.91" cy="428.63" r="2.4"/>
<circle cx="99.13" cy="426.98" r="2.4"/>
<circle cx="101.35" cy="424.88" r="2.4"/>
<circle cx="103.57" cy="420.68" r="2.4"/>
<circle cx="105.8" cy="411.44" r="2.4"/>
<circle cx="108.02" cy="403.33" r="2.4"/>
<circle cx="110.24" cy="396.77" r="2.4"/>
<circle cx="112.46" cy="393.74" r="2.4"/>
<circle cx="114.68" cy="394.13" r="2.4"/>
<circle cx="116.91" cy="394.81" r="2.4"/>
<circle cx="119.13" cy="395.8" r="2.4"/>
<circle cx="121.35" cy="395.34" r="2.4"/>
<circle cx="123.57" cy="395.19" r="2.4"/>
<circle cx="125.79" cy="396.15" r="2.4"/>
<circle cx="128.02" cy="394.7" r="2.4"/>
<circle cx="130.24" cy="392.05" r="2.4"/>
<circle cx="132.46" cy="388.4" r="2.4"/>
<circle cx="134.68" cy="388.89" r="2.4"/>
<circle cx="136.9" cy="386.35" r="2.4"/>
<circle cx="139.13" cy="387.32" r="2.4"/>
<circle cx="141.35" cy="385.81" r="2.4"/>
<circle cx="143.57" cy="384.33" r="2.4"/>
<circle cx="145.79" cy="383.33" r="2.4"/>
<circle cx="148.01" cy="383.18" r="2.4"/>
<circle cx="150.24" cy="383.8" r="2.4"/>
<circle cx="152.46" cy="383.58" r="2.4"/>
<circle cx="154.68" cy="381.8" r="2.4"/>
<circle cx="156.9" cy="381.53" r="2.4"/>
<circle cx="159.12" cy="382.54" r="2.4"/>
<circle cx="161.35" cy="382.53" r="2.4"/>
<circle cx="163.57" cy="382.52" r="2.4"/>
<circle cx="165.79" cy="382.66" r="2.4"/>
<circle cx="168.01" cy="384.22" r="2.4"/>
<circle cx="170.23" cy="383.26" r="2.4"/>
<circle cx="172.46" cy="384.27" r="2.4"/>
<circle cx="174.68" cy="384.8" r="2.4"/>
<circle cx="176.9" cy="386.24" r="2.4"/>
<circle cx="179.12" cy="385.64" r="2.4"/>
<circle cx="181.34" cy="386.48" r="2.4"/>
<circle cx="183.57" cy="385.64" r="2.4"/>
<circle cx="185.79" cy="385.33" r="2.4"/>
<circle cx="188.01" cy="386.76" r="2.4"/>
<circle cx="190.23" cy="390.02" r="2.4"/>
<circle cx="192.45" cy="390.75" r="2.4"/>
<circle cx="194.68" cy="390.5" r="2.4"/>
<circle cx="196.9" cy="390.38" r="2.4"/>
<circle cx="199.12" cy="392.25" r="2.4"/>
<circle cx="201.34" cy="393.33" r="2.4"/>
<circle cx="203.56" cy="393.3" r="2.4"/>
<circle cx="205.79" cy="393.04" r="2.4"/>
<circle cx="208.01" cy="394.2" r="2.4"/>
<circle cx="210.23" cy="394.95" r="2.4"/>
<circle cx="212.45" cy="393.22" r="2.4"/>
<circle cx="214.67" cy="392.81" r="2.4"/>
<circle cx="216.9" cy="393.71" r="2.4"/>
<circle cx="219.12" cy="394.31" r="2.4"/>
<circle cx="221.34" cy="395.37" r="2.4"/>
<circle cx="223.56" cy="394.49" r="2.4"/>
<circle cx="225.78" cy="396.43" r="2.4"/>
<circle cx="228.01" cy="396.61" r="2.4"/>
<circle cx="230.23" cy="395.9" r="2.4"/>
<circle cx="232.45" cy="395.02" r="2.4"/>
<circle cx="234.67" cy="396.91" r="2.4"/>
<circle cx="236.89" cy="395.1" r="2.4"/>
<circle cx="239.12" cy="396.38" r="2.4"/>
<circle cx="241.34" cy="395.22" r="2.4"/>
<circle cx="243.56" cy="395.56" r="2.4"/>
<circle cx="245.78" cy="397.32" r="2.4"/>
<circle cx="248" cy="396.48" r="2.4"/>
<circle cx="250.23" cy="398.55" r="2.4"/>
<circle cx="252.45" cy="397.73" r="2.4"/>
<circle cx="254.67" cy="397.29" r="2.4"/>
<circle cx="256.89" cy="397.75" r="2.4"/>
<circle cx="259.11" cy="398.5" r="2.4"/>
<circle cx="261.34" cy="399.18" r="2.4"/>
<circle cx="263.56" cy="399.95" r="2.4"/>
<circle cx="265.78" cy="397.9" r="2.4"/>
<circle cx="268" cy="398.58" r="2.4"/>
<circle cx="270.22" cy="398.15" r="2.4"/>
<circle cx="272.45" cy="400.16" r="2.4"/>
<circle cx="274.67" cy="398.04" r="2.4"/>
<circle cx="276.89" cy="397.84" r="2.4"/>
<circle cx="279.11" cy="397.94" r="2.4"/>
<circle cx="281.33" cy="398.87" r="2.4"/>
<circle cx="283.56" cy="400.26" r="2.4"/>
<circle cx="285.78" cy="400.29" r="2.4"/>
<circle cx="288" cy="399.98" r="2.4"/>
<circle cx="290.22" cy="400.74" r="2.4"/>
<circle cx="292.44" cy="400.64" r="2.4"/>
<circle cx="294.67" cy="399.15" r="2.4"/>
<circle cx="296.89" cy="398.98" r="2.4"/>
<circle cx="299.11" cy="401.16" r="2.4"/>
<circle cx="301.33" cy="400.89" r="2.4"/>
<circle cx="303.55" cy="399.27" r="2.4"/>
<circle cx="305.78" cy="401.14" r="2.4"/>
<circle cx="308" cy="400.63" r="2.4"/>
<circle cx="310.22" cy="400.84" r="2.4"/>
<circle cx="312.44" cy="400.96" r="2.4"/>
<circle cx="314.66" cy="400.67" r="2.4"/>
<circle cx="316.89" cy="400.3" r="2.4"/>
<circle cx="319.11" cy="401.08" r="2.4"/>
<circle cx="321.33" cy="401.33" r="2.4"/>
<circle cx="323.55" cy="402.96" r="2.4"/>
<circle cx="325.77" cy="400.86" r="2.4"/>
<circle cx="328" cy="403.11" r="2.4"/>
<circle cx="330.22" cy="401.2" r="2.4"/>
<circle cx="332.44" cy="401.82" r="2.4"/>
<circle cx="334.66" cy="403.62" r="2.4"/>
<circle cx="336.88" cy="404.21" r="2.4"/>
<circle cx="339.11" cy="403.79" r="2.4"/>
<circle cx="341.33" cy="402.67" r="2.4"/>
<circle cx="343.55" cy="403.17" r="2.4"/>
<circle cx="345.77" cy="402.31" r="2.4"/>
<circle cx="347.99" cy="403.13" r="2.4"/>
<circle cx="350.22" cy="400.75" r="2.4"/>
<circle cx="352.44" cy="401.74" r="2.4"/>
<circle cx="354.66" cy="403.67" r="2.4"/>
<circle cx="356.88" cy="401.95" r="2.4"/>
<circle cx="359.1" cy="403.23" r="2.4"/>
<circle cx="361.33" cy="404.48" r="2.4"/>
<circle cx="363.55" cy="404.57" r="2.4"/>
<circle cx="365.77" cy="402.9" r="2.4"/>
<circle cx="367.99" cy="403.09" r="2.4"/>
<circle cx="370.21" cy="403.37" r="2.4"/>
<circle cx="372.44" cy="405.81" r="2.4"/>
<circle cx="374.66" cy="404.3" r="2.4"/>
<circle cx="376.88" cy="405.78" r="2.4"/>
<circle cx="379.1" cy="406.39" r="2.4"/>
<circle cx="381.32" cy="405.05" r="2.4"/>
<circle cx="383.55" cy="404.74" r="2.4"/>
<circle cx="385.77" cy="406.39" r="2.4"/>
<circle cx="387.99" cy="405.38" r="2.4"/>
<circle cx="390.21" cy="404.33" r="2.4"/>
<circle cx="392.43" cy="405.38" r="2.4"/>
<circle cx="394.66" cy="404.21" r="2.4"/>
<circle cx="396.88" cy="403.97" r="2.4"/>
<circle cx="399.1" cy="403.14" r="2.4"/>
<circle cx="401.32" cy="404.97" r="2.4"/>
<circle cx="403.54" cy="406.19" r="2.4"/>
<circle cx="405.77" cy="406.25" r="2.4"/>
<circle cx="407.99" cy="407.86" r="2.4"/>
<circle cx="410.21" cy="406.27" r="2.4"/>
<circle cx="412.43" cy="407.61" r="2.4"/>
<circle cx="414.65" cy="408.86" r="2.4"/>
<circle cx="416.88" cy="410.2" r="2.4"/>
<circle cx="419.1" cy="410.27" r="2.4"/>
<circle cx="421.32" cy="408.88" r="2.4"/>
<circle cx="423.54" cy="408.62" r="2.4"/>
<circle cx="425.76" cy="409.17" r="2.4"/>
<circle cx="427.99" cy="409.38" r="2.4"/>
<circle cx="430.21" cy="410.51" r="2.4"/>
<circle cx="432.43" cy="408.58" r="2.4"/>
<circle cx="434.65" cy="410.19" r="2.4"/>
<circle cx="436.87" cy="410.02" r="2.4"/>
<circle cx="439.1" cy="410.24" r="2.4"/>
<circle cx="441.32" cy="410.11" r="2.4"/>
<circle cx="443.54" cy="409.82" r="2.4"/>
<circle cx="445.76" cy="409.38" r="2.4"/>
<circle cx="447.98" cy="409.64" r="2.4"/>
<circle cx="450.21" cy="410.03" r="2.4"/>
<circle cx="452.43" cy="411.4" r="2.4"/>
<circle cx="454.65" cy="409.11" r="2.4"/>
<circle cx="456.87" cy="408.86" r="2.4"/>
<circle cx="459.09" cy="409.74" r="2.4"/>
<circle cx="461.32" cy="407.87" r="2.4"/>
<circle cx="463.54" cy="406.97" r="2.4"/>
<circle cx="465.76" cy="406.89" r="2.4"/>
<circle cx="467.98" cy="408.24" r="2.4"/>
<circle cx="470.2" cy="407.65" r="2.4"/>
<circle cx="472.43" cy="409.35" r="2.4"/>
<circle cx="474.65" cy="409.12" r="2.4"/>
<circle cx="476.87" cy="409.42" r="2.4"/>
<circle cx="479.09" cy="407.58" r="2.4"/>
<circle cx="481.31" cy="407.14" r="2.4"/>
<circle cx="483.54" cy="407.2" r="2.4"/>
<circle cx="485.76" cy="408.28" r="2.4"/>
<circle cx="487.98" cy="408.87" r="2.4"/>
<circle cx="490.2" cy="408.22" r="2.4"/>
<circle cx="492.42" cy="407.7" r="2.4"/>
<circle cx="494.65" cy="408.2" r="2.4"/>
<circle cx="496.87" cy="408.77" r="2.4"/>
<circle cx="499.09" cy="408.94" r="2.4"/>
<circle cx="501.31" cy="409.17" r="2.4"/>
<circle cx="503.53" cy="409.46" r="2.4"/>
<circle cx="505.76" cy="409.02" r="2.4"/>
<circle cx="507.98" cy="407.65" r="2.4"/>
<circle cx="510.2" cy="409.56" r="2.4"/>
<circle cx="512.42" cy="408.17" r="2.4"/>
<circle cx="514.64" cy="408.92" r="2.4"/>
<circle cx="516.87" cy="408.45" r="2.4"/>
<circle cx="519.09" cy="409.44" r="2.4"/>
<circle cx="521.31" cy="408.07" r="2.4"/>
<circle cx="523.53" cy="408.24" r="2.4"/>
<circle cx="525.75" cy="408.27" r="2.4"/>
<circle cx="527.98" cy="408.06" r="2.4"/>
<circle cx="530.2" cy="410" r="2.4"/>
<circle cx="532.42" cy="409.16" r="2.4"/>
<circle cx="534.64" cy="408.47" r="2.4"/>
<circle cx="536.86" cy="408.62" r="2.4"/>
<circle cx="539.09" cy="410.13" r="2.4"/>
<circle cx="541.31" cy="408.83" r="2.4"/>
<circle cx="543.53" cy="408.08" r="2.4"/>
<circle cx="545.75" cy="409.54" r="2.4"/>
<circle cx="547.97" cy="409.1" r="2.4"/>
<circle cx="550.2" cy="409.94" r="2.4"/>
<circle cx="552.42" cy="407.59" r="2.4"/>
<circle cx="554.64" cy="408.52" r="2.4"/>
<circle cx="556.86" cy="409.38" r="2.4"/>
<circle cx="559.08" cy="409.4" r="2.4"/>
<circle cx="561.31" cy="409.5" r="2.4"/>
<circle cx="563.53" cy="407.09" r="2.4"/>
<circle cx="565.75" cy="407.62" r="2.4"/>
<circle cx="567.97" cy="407.03" r="2.4"/>
<circle cx="570.19" cy="407.1" r="2.4"/>
<circle cx="572.42" cy="409.17" r="2.4"/>
<circle cx="574.64" cy="408.2" r="2.4"/>
<circle cx="576.86" cy="409.14" r="2.4"/>
<circle cx="579.08" cy="407.73" r="2.4"/>
<circle cx="581.3" cy="409.06" r="2.4"/>
<circle cx="583.53" cy="408.01" r="2.4"/>
<circle cx="585.75" cy="407.56" r="2.4"/>
<circle cx="587.97" cy="408.95" r="2.4"/>
<circle cx="590.19" cy="409.43" r="2.4"/>
<circle cx="592.41" cy="407.28" r="2.4"/>
<circle cx="594.64" cy="408.6" r="2.4"/>
<circle cx="596.86" cy="408.7" r="2.4"/>
<circle cx="599.08" cy="407.43" r="2.4"/>
<circle cx="601.3" cy="407.49" r="2.4"/>
<circle cx="603.52" cy="406.57" r="2.4"/>
<circle cx="605.75" cy="406.4" r="2.4"/>
<circle cx="607.97" cy="406.2" r="2.4"/>
<circle cx="610.19" cy="406.77" r="2.4"/>
<circle cx="612.41" cy="406.57" r="2.4"/>
<circle cx="614.63" cy="405.07" r="2.4"/>
<circle cx="616.86" cy="404.24" r="2.4"/>
<circle cx="619.08" cy="404.73" r="2.4"/>
<circle cx="621.3" cy="405.32" r="2.4"/>
<circle cx="623.52" cy="403.7" r="2.4"/>
<circle cx="625.74" cy="404.01" r="2.4"/>
<circle cx="627.97" cy="404.3" r="2.4"/>
<circle cx="630.19" cy="406.42" r="2.4"/>
<circle cx="632.41" cy="406.36" r="2.4"/>
<circle cx="634.63" cy="405.68" r="2.4"/>
<circle cx="636.85" cy="406.36" r="2.4"/>
<circle cx="639.08" cy="407.5" r="2.4"/>
<circle cx="641.3" cy="406.89" r="2.4"/>
<circle cx="643.52" cy="406.12" r="2.4"/>
<circle cx="645.74" cy="403.68" r="2.4"/>
<circle cx="647.96" cy="402.86" r="2.4"/>
<circle cx="650.19" cy="403.45" r="2.4"/>
<circle cx="652.41" cy="402.93" r="2.4"/>
<circle cx="654.63" cy="402.83" r="2.4"/>
<circle cx="656.85" cy="403.12" r="2.4"/>
<circle cx="659.07" cy="405.03" r="2.4"/>
<circle cx="661.3" cy="403.59" r="2.4"/>
<circle cx="663.52" cy="404.47" r="2.4"/>
<circle cx="127.9" cy="352.9" r="2.4"/>
<circle cx="448.8" cy="402.5" r="2.4"/>
</g>
<line x1="150" y1="393.6" x2="664.5" y2="393.6" stroke="#ffffff" stroke-width="1"/>
<path d="M64 489.3C64.98 488.62 67.82 487.12 69.9 485.2C71.98 483.28 74.57 480.42 76.5 477.8C78.43 475.18 79.85 472.8 81.5 469.5C83.15 466.2 84.75 462.12 86.4 458C88.05 453.88 89.58 449.47 91.4 444.8C93.22 440.13 95.53 434.18 97.3 430C99.07 425.82 100.43 422.87 102 419.7C103.57 416.53 104.95 413.72 106.7 411C108.45 408.28 110.55 405.35 112.5 403.4C114.45 401.45 116.45 400.32 118.4 399.3C120.35 398.28 122.27 397.83 124.2 397.3C126.13 396.77 127.08 396.42 130 396.1C132.92 395.78 134.2 395.55 141.7 395.4C149.2 395.25 87.87 395.23 175 395.2C262.13 395.17 582.92 395.2 664.5 395.2" fill="none" stroke="#ff3838" stroke-width="1.3"/>
</g>
<rect x="64" y="331.5" width="600.5" height="168.8" fill="none" stroke="#d6d6d6" stroke-width="1"/>
<path d="M130.72 500.3v-6M130.72 331.5v6M197.44 500.3v-6M197.44 331.5v6M264.17 500.3v-6M264.17 331.5v6M330.89 500.3v-6M330.89 331.5v6M397.61 500.3v-6M397.61 331.5v6M464.33 500.3v-6M464.33 331.5v6M531.06 500.3v-6M531.06 331.5v6M597.78 500.3v-6M597.78 331.5v6M64 493.5h6M664.5 493.5h-6M64 421.6h6M664.5 421.6h-6M64 349.7h6M664.5 349.7h-6" stroke="#bcbcbc" stroke-width="1" fill="none"/>
<text transform="translate(58.6 520.48) scale(1.0355 1)" font-size="16.9" fill="#2c2c2c">0</text>
<text transform="translate(115.58 520.48) scale(1.0606 1)" font-size="16.9" fill="#2c2c2c">300</text>
<text transform="translate(181.5 520.48) scale(1.0673 1)" font-size="16.9" fill="#2c2c2c">600</text>
<text transform="translate(249.11 520.48) scale(1.0640 1)" font-size="16.9" fill="#2c2c2c">900</text>
<text transform="translate(309.58 520.48) scale(1.1135 1)" font-size="16.9" fill="#2c2c2c">1200</text>
<text transform="translate(376.3 520.48) scale(1.1135 1)" font-size="16.9" fill="#2c2c2c">1500</text>
<text transform="translate(443.02 520.48) scale(1.1135 1)" font-size="16.9" fill="#2c2c2c">1800</text>
<text transform="translate(510.47 520.48) scale(1.1005 1)" font-size="16.9" fill="#2c2c2c">2100</text>
<text transform="translate(577.32 520.48) scale(1.1005 1)" font-size="16.9" fill="#2c2c2c">2400</text>
<text transform="translate(643.52 520.48) scale(1.1005 1)" font-size="16.9" fill="#2c2c2c">2700</text>
<text transform="translate(48.97 355.73) scale(1.1290 1)" font-size="16.9" fill="#2c2c2c">1</text>
<text transform="translate(33.14 428.48) scale(1.1202 1)" font-size="16.9" fill="#2c2c2c">0.5</text>
<text transform="translate(48.73 500.48) scale(1.1341 1)" font-size="16.9" fill="#2c2c2c">0</text>
<text transform="translate(68.84 352.24)" font-size="21.5" fill="#111">i</text>
<text transform="translate(75.94 351.69)" font-size="21.5" fill="#111">)</text>
<text transform="translate(312.3 541) scale(1.0763 1)" font-size="18.6" fill="#2c2c2c">Time (mins)</text>
<text transform="translate(26.43 448.87) rotate(-90) scale(1.0989 1)" font-size="17.4" fill="#2c2c2c">Δλ (nm)</text>
</svg>
</body></html>
